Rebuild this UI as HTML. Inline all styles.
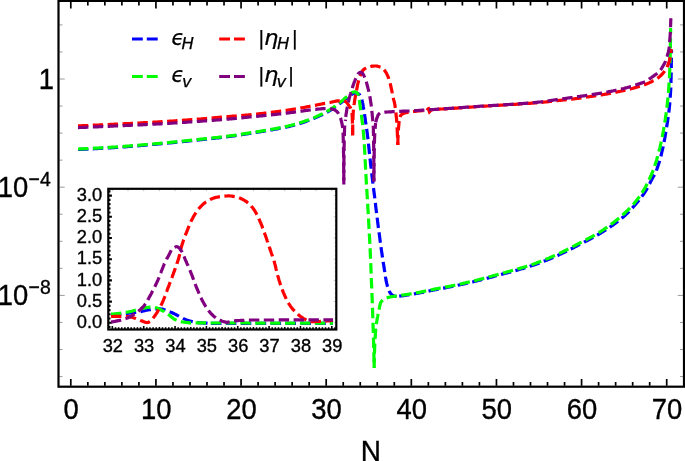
<!DOCTYPE html>
<html lang="en"><head><meta charset="utf-8"><title>Slow-roll parameters</title>
<style>html,body{margin:0;padding:0;background:#fff}svg{display:block}</style></head>
<body>
<svg width="685" height="461" viewBox="0 0 685 461">
<rect width="685" height="461" fill="#fff"/>
<path d="M59.5 24.90h3.0M683.0 24.90h-3.0M59.5 51.95h3.0M683.0 51.95h-3.0M59.5 79.00h5.2M683.0 79.00h-5.2M59.5 106.05h3.0M683.0 106.05h-3.0M59.5 133.10h3.0M683.0 133.10h-3.0M59.5 160.15h3.0M683.0 160.15h-3.0M59.5 187.20h5.2M683.0 187.20h-5.2M59.5 214.25h3.0M683.0 214.25h-3.0M59.5 241.30h3.0M683.0 241.30h-3.0M59.5 268.35h3.0M683.0 268.35h-3.0M59.5 295.40h5.2M683.0 295.40h-5.2M59.5 322.45h3.0M683.0 322.45h-3.0M59.5 349.50h3.0M683.0 349.50h-3.0M59.5 376.55h3.0M683.0 376.55h-3.0" stroke="#808080" stroke-width="0.8" fill="none"/>
<path d="M70.80 385.7v-6.6M70.80 1.9v6.6M87.83 385.7v-3.6M87.83 1.9v3.6M104.85 385.7v-3.6M104.85 1.9v3.6M121.88 385.7v-3.6M121.88 1.9v3.6M138.90 385.7v-3.6M138.90 1.9v3.6M155.93 385.7v-6.6M155.93 1.9v6.6M172.96 385.7v-3.6M172.96 1.9v3.6M189.98 385.7v-3.6M189.98 1.9v3.6M207.01 385.7v-3.6M207.01 1.9v3.6M224.03 385.7v-3.6M224.03 1.9v3.6M241.06 385.7v-6.6M241.06 1.9v6.6M258.09 385.7v-3.6M258.09 1.9v3.6M275.11 385.7v-3.6M275.11 1.9v3.6M292.14 385.7v-3.6M292.14 1.9v3.6M309.16 385.7v-3.6M309.16 1.9v3.6M326.19 385.7v-6.6M326.19 1.9v6.6M343.22 385.7v-3.6M343.22 1.9v3.6M360.24 385.7v-3.6M360.24 1.9v3.6M377.27 385.7v-3.6M377.27 1.9v3.6M394.29 385.7v-3.6M394.29 1.9v3.6M411.32 385.7v-6.6M411.32 1.9v6.6M428.35 385.7v-3.6M428.35 1.9v3.6M445.37 385.7v-3.6M445.37 1.9v3.6M462.40 385.7v-3.6M462.40 1.9v3.6M479.42 385.7v-3.6M479.42 1.9v3.6M496.45 385.7v-6.6M496.45 1.9v6.6M513.48 385.7v-3.6M513.48 1.9v3.6M530.50 385.7v-3.6M530.50 1.9v3.6M547.53 385.7v-3.6M547.53 1.9v3.6M564.55 385.7v-3.6M564.55 1.9v3.6M581.58 385.7v-6.6M581.58 1.9v6.6M598.61 385.7v-3.6M598.61 1.9v3.6M615.63 385.7v-3.6M615.63 1.9v3.6M632.66 385.7v-3.6M632.66 1.9v3.6M649.68 385.7v-3.6M649.68 1.9v3.6M666.71 385.7v-6.6M666.71 1.9v6.6" stroke="#000" stroke-width="1.7" fill="none"/>
<path d="M78.0 149.5L78.8 149.5L79.6 149.4L80.4 149.4L81.2 149.4L82.0 149.3L82.8 149.3L83.6 149.3L84.4 149.2L85.2 149.2L86.0 149.1L86.8 149.1L87.6 149.1L88.4 149.0L89.2 149.0L90.0 148.9L90.8 148.9L91.6 148.9L92.4 148.8L93.2 148.8L94.0 148.7L94.8 148.7L95.6 148.7L96.4 148.6L97.2 148.6L98.0 148.5L98.8 148.5L99.6 148.4L100.4 148.4L101.2 148.3L102.0 148.3L102.8 148.2L103.6 148.2L104.4 148.2L105.2 148.1L106.0 148.1L106.9 148.0L107.7 148.0L108.5 147.9L109.3 147.9L110.1 147.8L110.9 147.8L111.7 147.7L112.5 147.7L113.3 147.6L114.1 147.6L114.9 147.5L115.7 147.5L116.5 147.4L117.3 147.4L118.1 147.3L118.9 147.2L119.7 147.2L120.5 147.1L121.3 147.1L122.1 147.0L122.9 147.0L123.7 146.9L124.5 146.8L125.3 146.8L126.1 146.7L126.9 146.7L127.7 146.6L128.5 146.5L129.3 146.5L130.1 146.4L130.9 146.4L131.7 146.3L132.5 146.2L133.3 146.2L134.1 146.1L134.9 146.0L135.7 146.0L136.5 145.9L137.3 145.8L138.1 145.8L138.9 145.7L139.7 145.6L140.5 145.6L141.3 145.5L142.1 145.4L142.9 145.4L143.7 145.3L144.5 145.2L145.3 145.2L146.1 145.1L146.9 145.0L147.7 144.9L148.5 144.9L149.3 144.8L150.1 144.7L150.9 144.7L151.7 144.6L152.5 144.5L153.3 144.5L154.1 144.4L154.8 144.3L155.6 144.2L156.4 144.2L157.2 144.1L158.0 144.0L158.8 144.0L159.6 143.9L160.4 143.8L161.2 143.7L162.0 143.7L162.8 143.6L163.6 143.5L164.4 143.4L165.2 143.4L166.0 143.3L166.8 143.2L167.6 143.1L168.4 143.0L169.2 143.0L170.0 142.9L170.8 142.8L171.6 142.7L172.4 142.6L173.2 142.6L174.0 142.5L174.8 142.4L175.6 142.3L176.4 142.2L177.2 142.2L178.0 142.1L178.8 142.0L179.6 141.9L180.4 141.8L181.2 141.8L182.0 141.7L182.8 141.6L183.6 141.5L184.4 141.4L185.2 141.3L186.0 141.3L186.8 141.2L187.6 141.1L188.4 141.0L189.2 140.9L190.0 140.8L190.8 140.7L191.6 140.7L192.4 140.6L193.2 140.5L194.0 140.4L194.8 140.3L195.6 140.2L196.4 140.2L197.2 140.1L198.0 140.0L198.8 139.9L199.6 139.8L200.4 139.7L201.2 139.7L202.0 139.6L202.8 139.5L203.6 139.4L204.3 139.3L205.1 139.2L205.9 139.1L206.7 139.1L207.5 139.0L208.3 138.9L209.1 138.8L209.9 138.7L210.7 138.6L211.5 138.6L212.3 138.5L213.1 138.4L213.9 138.3L214.7 138.2L215.5 138.1L216.3 138.0L217.1 137.9L217.9 137.9L218.7 137.8L219.5 137.7L220.3 137.6L221.1 137.5L221.9 137.4L222.7 137.3L223.5 137.2L224.3 137.1L225.1 137.0L225.9 136.9L226.7 136.8L227.5 136.7L228.3 136.6L229.1 136.5L229.9 136.4L230.7 136.3L231.5 136.2L232.2 136.1L233.0 136.0L233.8 135.9L234.6 135.8L235.4 135.6L236.2 135.5L237.0 135.4L237.8 135.3L238.6 135.2L239.4 135.0L240.2 134.9L241.0 134.8L241.8 134.7L242.6 134.5L243.4 134.4L244.1 134.3L244.9 134.2L245.7 134.0L246.5 133.9L247.3 133.8L248.1 133.7L248.9 133.5L249.7 133.4L250.5 133.3L251.3 133.2L252.1 133.0L252.9 132.9L253.7 132.8L254.5 132.7L255.2 132.5L256.0 132.4L256.8 132.3L257.6 132.2L258.4 132.0L259.2 131.9L260.0 131.8L260.8 131.7L261.6 131.5L262.4 131.4L263.2 131.3L264.0 131.1L264.8 131.0L265.5 130.9L266.3 130.7L267.1 130.6L267.9 130.5L268.7 130.3L269.5 130.2L270.3 130.0L271.1 129.9L271.9 129.8L272.7 129.6L273.4 129.5L274.2 129.3L275.0 129.2L275.8 129.1L276.6 128.9L277.4 128.8L278.2 128.6L279.0 128.5L279.8 128.3L280.6 128.2L281.3 128.0L282.1 127.9L282.9 127.7L283.7 127.6L284.5 127.4L285.3 127.2L286.1 127.1L286.9 126.9L287.6 126.7L288.4 126.6L289.2 126.4L290.0 126.2L290.8 126.0L291.5 125.8L292.3 125.6L293.1 125.4L293.9 125.2L294.6 125.0L295.4 124.8L296.2 124.6L296.9 124.3L297.7 124.1L298.5 123.9L299.3 123.6L300.0 123.4L300.8 123.2L301.6 122.9L302.3 122.7L303.1 122.4L303.8 122.2L304.6 121.9L305.4 121.6L306.1 121.4L306.9 121.1L307.6 120.8L308.4 120.6L309.1 120.3L309.9 120.0L310.6 119.7L311.4 119.4L312.1 119.1L312.9 118.8L313.6 118.5L314.4 118.2L315.1 117.9L315.8 117.6L316.6 117.2L317.3 116.9L318.0 116.6L318.8 116.3L319.5 115.9L320.2 115.6L320.9 115.2L321.7 114.9L322.4 114.6L323.1 114.2L323.8 113.8L324.5 113.5L325.3 113.1L326.0 112.7L326.7 112.4L327.4 112.0L328.1 111.6L328.8 111.2L329.5 110.8L330.2 110.4L330.9 110.0L331.5 109.6L332.2 109.1L332.9 108.7L333.6 108.2L334.2 107.8L334.9 107.3L335.5 106.8L336.2 106.4L336.8 105.9L337.4 105.4L338.1 104.9L338.7 104.4L339.3 103.9L340.0 103.4L340.6 102.9L341.2 102.4L341.9 101.9L342.5 101.4L343.1 100.9L343.8 100.4L344.4 99.9L345.0 99.4L345.6 98.9L346.3 98.4L346.9 97.9L347.5 97.4L348.2 96.9L348.8 96.4L349.4 96.0L350.1 95.5L350.8 95.0L351.4 94.5L352.1 94.1L352.8 93.8L353.6 93.5L354.3 93.3L355.1 93.1L355.9 93.1L356.7 93.2L357.5 93.3L358.2 93.6L358.9 94.1L359.5 94.7L360.0 95.3L360.5 96.0L360.9 96.7L361.2 97.4L361.5 98.1L361.7 98.9L361.9 99.7L362.1 100.5L362.3 101.2L362.5 102.0L362.6 102.8L362.8 103.6L362.9 104.4L363.1 105.2L363.2 106.0L363.3 106.8L363.5 107.6L363.6 108.4L363.7 109.2L363.9 109.9L364.0 110.7L364.1 111.5L364.2 112.3L364.3 113.1L364.5 113.9L364.6 114.7L364.7 115.5L364.8 116.3L364.9 117.1L365.0 117.9L365.2 118.7L365.3 119.5L365.4 120.3L365.5 121.1L365.6 121.9L365.7 122.6L365.8 123.4L366.0 124.2L366.1 125.0L366.2 125.8L366.3 126.6L366.4 127.4L366.5 128.2L366.6 129.0L366.8 129.8L366.9 130.6L367.0 131.4L367.1 132.2L367.2 133.0L367.3 133.8L367.4 134.6L367.5 135.4L367.6 136.2L367.7 137.0L367.8 137.7L367.9 138.5L368.0 139.3L368.1 140.1L368.2 140.9L368.3 141.7L368.3 142.5L368.4 143.3L368.5 144.1L368.6 144.9L368.7 145.7L368.7 146.5L368.8 147.3L368.9 148.1L369.0 148.9L369.1 149.7L369.2 150.5L369.2 151.3L369.3 152.1L369.4 152.9L369.5 153.7L369.6 154.5L369.7 155.3L369.8 156.1L369.8 156.9L369.9 157.7L370.0 158.5L370.1 159.3L370.2 160.1L370.3 160.9L370.4 161.7L370.4 162.5L370.5 163.3L370.6 164.1L370.7 164.9L370.8 165.7L370.9 166.5L371.0 167.3L371.1 168.1L371.1 168.9L371.2 169.7L371.3 170.5L371.4 171.3L371.5 172.1L371.6 172.9L371.7 173.6L371.8 174.4L371.9 175.2L372.0 176.0L372.1 176.8L372.2 177.6L372.3 178.4L372.4 179.2L372.5 180.0L372.6 180.8L372.7 181.6L372.8 182.4L372.9 183.2L373.0 184.0L373.1 184.8L373.2 185.6L373.3 186.4L373.4 187.2L373.5 188.0L373.6 188.8L373.7 189.6L373.8 190.4L373.9 191.2L374.0 192.0L374.1 192.8L374.2 193.6L374.3 194.3L374.4 195.1L374.5 195.9L374.6 196.7L374.7 197.5L374.8 198.3L374.9 199.1L375.0 199.9L375.1 200.7L375.2 201.5L375.3 202.3L375.4 203.1L375.5 203.9L375.6 204.7L375.6 205.5L375.7 206.3L375.8 207.1L375.9 207.9L376.0 208.7L376.1 209.5L376.2 210.3L376.3 211.1L376.4 211.9L376.5 212.7L376.6 213.5L376.7 214.3L376.8 215.1L376.9 215.9L377.0 216.6L377.1 217.4L377.2 218.2L377.3 219.0L377.4 219.8L377.5 220.6L377.6 221.4L377.7 222.2L377.8 223.0L377.9 223.8L378.0 224.6L378.1 225.4L378.2 226.2L378.3 227.0L378.4 227.8L378.5 228.6L378.6 229.4L378.7 230.2L378.8 231.0L378.9 231.8L379.0 232.6L379.2 233.4L379.3 234.2L379.4 235.0L379.5 235.8L379.6 236.5L379.7 237.3L379.8 238.1L379.9 238.9L380.0 239.7L380.1 240.5L380.2 241.3L380.3 242.1L380.4 242.9L380.5 243.7L380.6 244.5L380.7 245.3L380.9 246.1L381.0 246.9L381.1 247.7L381.2 248.5L381.3 249.3L381.4 250.1L381.5 250.9L381.6 251.7L381.8 252.4L381.9 253.2L382.0 254.0L382.1 254.8L382.2 255.6L382.3 256.4L382.5 257.2L382.6 258.0L382.7 258.8L382.8 259.6L382.9 260.4L383.1 261.2L383.2 262.0L383.3 262.8L383.4 263.6L383.6 264.3L383.7 265.1L383.8 265.9L383.9 266.7L384.1 267.5L384.2 268.3L384.3 269.1L384.4 269.9L384.5 270.7L384.7 271.5L384.8 272.3L384.9 273.1L385.0 273.9L385.1 274.7L385.2 275.5L385.4 276.3L385.5 277.1L385.6 277.9L385.8 278.6L385.9 279.4L386.0 280.2L386.2 281.0L386.4 281.8L386.5 282.6L386.7 283.3L386.9 284.1L387.1 284.9L387.3 285.7L387.5 286.5L387.7 287.3L388.0 288.1L388.2 288.8L388.5 289.6L388.8 290.3L389.1 291.0L389.5 291.7L389.9 292.4L390.3 293.1L390.9 293.8L391.4 294.4L392.0 294.9L392.7 295.3L393.3 295.7L394.0 295.9L394.8 296.2L395.6 296.4L396.5 296.5" fill="none" stroke="#0000ff" stroke-width="3.2" stroke-dasharray="10.4 4.5" stroke-dashoffset="0.00" />
<path d="M396.5 296.5L397.3 296.4L398.1 296.3L398.9 296.2L399.7 296.1L400.5 296.0L401.3 295.9L402.1 295.8L402.9 295.7L403.7 295.6L404.5 295.4L405.2 295.3L406.0 295.2L406.8 295.1L407.6 295.0L408.4 294.9L409.2 294.7L410.0 294.6L410.8 294.5L411.6 294.4L412.4 294.2L413.2 294.1L413.9 294.0L414.7 293.8L415.5 293.7L416.3 293.5L417.1 293.4L417.9 293.2L418.7 293.1L419.5 292.9L420.2 292.8L421.0 292.6L421.8 292.4L422.6 292.3L423.4 292.1L424.2 292.0L425.0 291.8L425.7 291.6L426.5 291.5L427.3 291.3L428.1 291.2L428.9 291.0L429.7 290.8L430.5 290.7L431.2 290.5L432.0 290.4L432.8 290.2L433.6 290.0L434.4 289.9L435.2 289.7L436.0 289.6L436.8 289.4L437.5 289.3L438.3 289.1L439.1 289.0L439.9 288.8L440.7 288.7L441.5 288.5L442.3 288.4L443.1 288.2L443.8 288.1L444.6 287.9L445.4 287.8L446.2 287.6L447.0 287.5L447.8 287.3L448.6 287.1L449.3 287.0L450.1 286.8L450.9 286.7L451.7 286.5L452.5 286.4L453.3 286.2L454.1 286.0L454.8 285.9L455.6 285.7L456.4 285.5L457.2 285.4L458.0 285.2L458.8 285.0L459.5 284.9L460.3 284.7L461.1 284.5L461.9 284.4L462.7 284.2L463.5 284.0L464.2 283.8L465.0 283.7L465.8 283.5L466.6 283.3L467.4 283.1L468.2 282.9L468.9 282.8L469.7 282.6L470.5 282.4L471.3 282.2L472.1 282.0L472.8 281.9L473.6 281.7L474.4 281.5L475.2 281.3L476.0 281.1L476.7 280.9L477.5 280.7L478.3 280.5L479.1 280.3L479.8 280.1L480.6 279.9L481.4 279.7L482.2 279.5L483.0 279.3L483.7 279.1L484.5 278.9L485.3 278.7L486.1 278.5L486.8 278.3L487.6 278.1L488.4 277.9L489.1 277.7L489.9 277.5L490.7 277.3L491.5 277.1L492.2 276.9L493.0 276.7L493.8 276.4L494.6 276.2L495.3 276.0L496.1 275.8L496.9 275.6L497.7 275.4L498.4 275.2L499.2 275.0L500.0 274.8L500.8 274.6L501.5 274.4L502.3 274.1L503.1 273.9L503.9 273.7L504.6 273.5L505.4 273.3L506.2 273.1L507.0 272.9L507.7 272.7L508.5 272.5L509.3 272.3L510.1 272.1L510.8 271.9L511.6 271.7L512.4 271.5L513.2 271.2L513.9 271.0L514.7 270.8L515.5 270.6L516.2 270.4L517.0 270.2L517.8 270.0L518.6 269.7L519.3 269.5L520.1 269.3L520.9 269.1L521.6 268.8L522.4 268.6L523.2 268.4L523.9 268.1L524.7 267.9L525.5 267.7L526.2 267.4L527.0 267.2L527.8 266.9L528.5 266.7L529.3 266.5L530.1 266.2L530.8 266.0L531.6 265.7L532.3 265.5L533.1 265.2L533.9 265.0L534.6 264.7L535.4 264.4L536.1 264.2L536.9 263.9L537.6 263.6L538.4 263.4L539.1 263.1L539.9 262.8L540.6 262.5L541.4 262.2L542.1 262.0L542.9 261.7L543.6 261.4L544.4 261.1L545.1 260.8L545.9 260.5L546.6 260.2L547.4 259.9L548.1 259.6L548.9 259.3L549.6 259.0L550.3 258.7L551.1 258.3L551.8 258.0L552.5 257.7L553.3 257.4L554.0 257.1L554.7 256.8L555.5 256.4L556.2 256.1L556.9 255.8L557.7 255.5L558.4 255.1L559.1 254.8L559.9 254.4L560.6 254.1L561.3 253.8L562.0 253.4L562.7 253.1L563.5 252.7L564.2 252.4L564.9 252.0L565.6 251.7L566.3 251.3L567.1 250.9L567.8 250.6L568.5 250.2L569.2 249.9L569.9 249.5L570.6 249.1L571.4 248.8L572.1 248.4L572.8 248.0L573.5 247.7L574.2 247.3L574.9 246.9L575.6 246.5L576.3 246.2L577.1 245.8L577.8 245.4L578.5 245.1L579.2 244.7L579.9 244.3L580.6 244.0L581.3 243.6L582.0 243.2L582.8 242.9L583.5 242.5L584.2 242.1L584.9 241.8L585.6 241.4L586.3 241.0L587.0 240.7L587.8 240.3L588.5 239.9L589.2 239.6L589.9 239.2L590.6 238.8L591.3 238.4L592.0 238.1L592.7 237.7L593.4 237.3L594.1 236.9L594.8 236.5L595.5 236.1L596.2 235.7L596.9 235.3L597.6 234.9L598.3 234.5L599.0 234.1L599.7 233.7L600.4 233.3L601.0 232.9L601.7 232.5L602.4 232.0L603.1 231.6L603.8 231.2L604.4 230.8L605.1 230.3L605.8 229.9L606.5 229.4L607.1 229.0L607.8 228.6L608.5 228.1L609.1 227.7L609.8 227.2L610.5 226.8L611.1 226.3L611.8 225.8L612.5 225.4L613.1 224.9L613.8 224.4L614.4 224.0L615.1 223.5L615.7 223.0L616.4 222.5L617.0 222.0L617.6 221.5L618.3 221.0L618.9 220.6L619.5 220.1L620.1 219.6L620.8 219.0L621.4 218.5L622.0 218.0L622.6 217.5L623.2 217.0L623.8 216.5L624.4 215.9L625.0 215.4L625.6 214.9L626.1 214.3L626.7 213.7L627.3 213.2L627.9 212.6L628.4 212.1L629.0 211.5L629.6 210.9L630.1 210.3L630.7 209.7L631.2 209.1L631.8 208.6L632.3 208.0L632.9 207.4L633.4 206.8L633.9 206.2L634.4 205.6L635.0 205.0L635.5 204.4L636.0 203.8L636.5 203.1L637.0 202.5L637.6 201.9L638.1 201.3L638.6 200.7L639.1 200.0L639.6 199.4L640.1 198.8L640.6 198.1L641.1 197.5L641.6 196.9L642.1 196.2L642.5 195.6L643.0 194.9L643.5 194.3L643.9 193.6L644.4 193.0L644.8 192.3L645.3 191.6L645.7 191.0L646.1 190.3L646.5 189.6L646.9 188.9L647.3 188.2L647.7 187.5L648.1 186.8L648.4 186.1L648.8 185.4L649.2 184.7L649.5 183.9L649.9 183.2L650.2 182.5L650.6 181.8L651.0 181.1L651.3 180.4L651.7 179.6L652.1 178.9L652.5 178.2L652.9 177.5L653.3 176.8L653.7 176.1L654.1 175.4L654.5 174.7L654.9 174.0L655.2 173.3L655.5 172.6L655.9 171.8L656.2 171.1L656.4 170.4L656.7 169.6L657.0 168.9L657.3 168.1L657.5 167.4L657.8 166.6L658.0 165.9L658.3 165.1L658.5 164.3L658.8 163.6L659.0 162.8L659.3 162.0L659.5 161.3L659.7 160.5L659.9 159.7L660.1 158.9L660.3 158.1L660.6 157.4L660.8 156.6L661.0 155.8L661.2 155.0L661.4 154.2L661.5 153.5L661.7 152.7L661.9 151.9L662.1 151.1L662.3 150.4L662.5 149.6L662.6 148.8L662.8 148.0L663.0 147.2L663.2 146.5L663.3 145.7L663.5 144.9L663.7 144.1L663.8 143.3L664.0 142.5L664.1 141.7L664.3 140.9L664.4 140.2L664.6 139.4L664.7 138.6L664.9 137.8L665.0 137.0L665.2 136.2L665.3 135.4L665.4 134.6L665.6 133.8L665.7 133.0L665.8 132.3L666.0 131.5L666.1 130.7L666.2 129.9L666.3 129.1L666.5 128.3L666.6 127.5L666.7 126.7L666.8 125.9L667.0 125.1L667.1 124.3L667.2 123.6L667.3 122.8L667.5 122.0L667.6 121.2L667.7 120.4L667.8 119.6L667.9 118.8L668.0 118.0L668.2 117.2L668.3 116.4L668.4 115.6L668.5 114.8L668.6 114.0L668.7 113.2L668.8 112.4L668.9 111.6L669.0 110.8L669.1 110.0L669.2 109.2L669.3 108.4L669.3 107.7L669.4 106.9L669.5 106.1L669.6 105.3L669.7 104.5L669.7 103.7L669.8 102.9L669.9 102.1L669.9 101.3L670.0 100.5L670.0 99.7L670.1 98.9L670.2 98.1L670.2 97.3L670.3 96.5L670.3 95.7L670.4 94.9L670.4 94.1L670.5 93.3L670.5 92.5L670.6 91.7L670.6 90.9L670.7 90.1L670.7 89.3L670.8 88.5L670.8 87.7L670.8 86.9L670.9 86.1L670.9 85.3L670.9 84.5L670.9 83.7L671.0 82.9L671.0 82.1L671.0 81.3L671.0 80.5L671.0 79.7L671.1 78.9L671.1 78.1L671.1 77.3L671.1 76.5L671.1 75.7L671.1 74.8L671.2 74.0L671.2 73.2L671.2 72.4L671.2 71.6L671.2 70.8L671.2 70.0L671.2 69.2L671.3 68.4L671.3 67.6L671.3 66.8L671.3 66.0L671.3 65.2L671.3 64.4L671.3 63.6L671.3 62.8L671.4 62.0L671.4 61.2L671.4 60.4L671.4 59.6L671.4 58.8L671.4 58.0L671.4 57.2L671.4 56.4L671.4 55.6L671.5 54.8L671.5 54.0L671.5 53.2L671.5 52.4L671.5 51.6L671.5 50.8L671.5 50.0" fill="none" stroke="#0000ff" stroke-width="3.2" stroke-dasharray="10.4 4.5" stroke-dashoffset="12.17" />
<path d="M78.0 149.0L78.8 149.0L79.6 148.9L80.4 148.9L81.2 148.9L82.0 148.8L82.8 148.8L83.6 148.8L84.4 148.7L85.2 148.7L86.0 148.6L86.8 148.6L87.6 148.6L88.4 148.5L89.2 148.5L90.0 148.4L90.8 148.4L91.6 148.4L92.4 148.3L93.2 148.3L94.0 148.2L94.8 148.2L95.6 148.2L96.4 148.1L97.2 148.1L98.0 148.0L98.8 148.0L99.6 147.9L100.4 147.9L101.2 147.8L102.0 147.8L102.8 147.7L103.6 147.7L104.4 147.7L105.2 147.6L106.0 147.6L106.8 147.5L107.6 147.5L108.4 147.4L109.2 147.4L110.0 147.3L110.8 147.3L111.6 147.2L112.4 147.2L113.2 147.1L114.0 147.1L114.8 147.0L115.6 147.0L116.4 146.9L117.2 146.9L118.0 146.8L118.8 146.7L119.6 146.7L120.4 146.6L121.2 146.6L122.0 146.5L122.8 146.5L123.6 146.4L124.4 146.3L125.2 146.3L126.0 146.2L126.8 146.2L127.6 146.1L128.4 146.0L129.2 146.0L130.0 145.9L130.8 145.9L131.6 145.8L132.4 145.7L133.2 145.7L134.0 145.6L134.8 145.5L135.6 145.5L136.4 145.4L137.2 145.3L138.0 145.3L138.8 145.2L139.6 145.1L140.4 145.1L141.2 145.0L142.0 144.9L142.8 144.9L143.6 144.8L144.4 144.7L145.2 144.7L146.0 144.6L146.8 144.5L147.6 144.5L148.4 144.4L149.2 144.3L150.0 144.2L150.8 144.2L151.6 144.1L152.4 144.0L153.2 144.0L154.0 143.9L154.8 143.8L155.6 143.7L156.4 143.7L157.2 143.6L158.0 143.5L158.8 143.5L159.6 143.4L160.4 143.3L161.2 143.2L162.0 143.2L162.8 143.1L163.6 143.0L164.4 142.9L165.2 142.9L166.0 142.8L166.8 142.7L167.6 142.6L168.3 142.6L169.1 142.5L169.9 142.4L170.7 142.3L171.5 142.2L172.3 142.2L173.1 142.1L173.9 142.0L174.7 141.9L175.5 141.8L176.3 141.8L177.1 141.7L177.9 141.6L178.7 141.5L179.5 141.4L180.3 141.3L181.1 141.3L181.9 141.2L182.7 141.1L183.5 141.0L184.3 140.9L185.1 140.8L185.9 140.8L186.7 140.7L187.5 140.6L188.3 140.5L189.1 140.4L189.9 140.3L190.7 140.3L191.5 140.2L192.3 140.1L193.1 140.0L193.9 139.9L194.7 139.8L195.5 139.8L196.3 139.7L197.1 139.6L197.9 139.5L198.7 139.4L199.5 139.3L200.2 139.2L201.0 139.2L201.8 139.1L202.6 139.0L203.4 138.9L204.2 138.8L205.0 138.7L205.8 138.7L206.6 138.6L207.4 138.5L208.2 138.4L209.0 138.3L209.8 138.2L210.6 138.2L211.4 138.1L212.2 138.0L213.0 137.9L213.8 137.8L214.6 137.7L215.4 137.6L216.2 137.5L217.0 137.5L217.8 137.4L218.6 137.3L219.4 137.2L220.2 137.1L221.0 137.0L221.8 136.9L222.6 136.8L223.4 136.7L224.2 136.6L225.0 136.5L225.7 136.4L226.5 136.3L227.3 136.2L228.1 136.1L228.9 136.0L229.7 135.9L230.5 135.8L231.3 135.7L232.1 135.6L232.9 135.5L233.7 135.4L234.5 135.3L235.3 135.2L236.1 135.1L236.9 134.9L237.7 134.8L238.5 134.7L239.2 134.6L240.0 134.4L240.8 134.3L241.6 134.2L242.4 134.1L243.2 133.9L244.0 133.8L244.8 133.7L245.6 133.6L246.4 133.4L247.2 133.3L248.0 133.2L248.7 133.1L249.5 132.9L250.3 132.8L251.1 132.7L251.9 132.6L252.7 132.4L253.5 132.3L254.3 132.2L255.1 132.1L255.9 132.0L256.7 131.8L257.5 131.7L258.3 131.6L259.0 131.5L259.8 131.3L260.6 131.2L261.4 131.1L262.2 130.9L263.0 130.8L263.8 130.7L264.6 130.5L265.4 130.4L266.2 130.3L267.0 130.1L267.7 130.0L268.5 129.9L269.3 129.7L270.1 129.6L270.9 129.4L271.7 129.3L272.5 129.2L273.3 129.0L274.1 128.9L274.8 128.7L275.6 128.6L276.4 128.4L277.2 128.3L278.0 128.1L278.8 128.0L279.6 127.8L280.4 127.7L281.2 127.5L281.9 127.4L282.7 127.2L283.5 127.0L284.3 126.9L285.1 126.7L285.9 126.5L286.7 126.4L287.4 126.2L288.2 126.0L289.0 125.8L289.8 125.6L290.5 125.5L291.3 125.3L292.1 125.1L292.9 124.9L293.6 124.7L294.4 124.4L295.2 124.2L296.0 124.0L296.7 123.8L297.5 123.6L298.3 123.3L299.0 123.1L299.8 122.8L300.6 122.6L301.3 122.3L302.1 122.1L302.9 121.8L303.6 121.6L304.4 121.3L305.1 121.0L305.9 120.8L306.6 120.5L307.4 120.2L308.1 119.9L308.9 119.7L309.6 119.4L310.4 119.1L311.1 118.8L311.9 118.5L312.6 118.2L313.4 117.9L314.1 117.6L314.8 117.2L315.6 116.9L316.3 116.6L317.0 116.3L317.8 115.9L318.5 115.6L319.2 115.3L319.9 114.9L320.7 114.6L321.4 114.2L322.1 113.9L322.8 113.5L323.5 113.2L324.3 112.8L325.0 112.4L325.7 112.0L326.4 111.7L327.1 111.3L327.8 110.9L328.5 110.5L329.2 110.1L329.9 109.7L330.5 109.3L331.2 108.8L331.9 108.4L332.6 107.9L333.2 107.5L333.9 107.0L334.5 106.5L335.2 106.1L335.8 105.6L336.4 105.1L337.1 104.6L337.7 104.1L338.4 103.6L339.0 103.1L339.6 102.7L340.2 102.2L340.9 101.7L341.5 101.2L342.1 100.7L342.8 100.2L343.4 99.7L344.0 99.1L344.6 98.6L345.2 98.1L345.8 97.6L346.5 97.1L347.1 96.6L347.7 96.0L348.3 95.5L348.9 95.0L349.6 94.5L350.2 94.0L350.8 93.5L351.5 93.0L352.1 92.5L352.8 92.2L353.6 92.0L354.4 91.8L355.2 91.9L356.0 92.2L356.6 92.6L357.2 93.1L357.8 93.8L358.1 94.5L358.4 95.2L358.6 95.9L358.8 96.7L359.0 97.5L359.1 98.4L359.2 99.2L359.4 100.0L359.5 100.7L359.6 101.5L359.7 102.3L359.8 103.1L359.9 103.9L360.0 104.7L360.1 105.5L360.2 106.3L360.3 107.1L360.4 107.9L360.5 108.7L360.6 109.5L360.7 110.3L360.8 111.1L361.0 111.9L361.1 112.7L361.2 113.5L361.3 114.3L361.4 115.1L361.5 115.8L361.6 116.6L361.7 117.4L361.8 118.2L361.9 119.0L362.0 119.8L362.1 120.6L362.2 121.4L362.3 122.2L362.4 123.0L362.5 123.8L362.6 124.6L362.7 125.4L362.7 126.2L362.8 127.0L362.9 127.8L363.0 128.6L363.1 129.4L363.2 130.2L363.3 131.0L363.3 131.8L363.4 132.6L363.5 133.4L363.6 134.2L363.6 135.0L363.7 135.8L363.8 136.6L363.8 137.4L363.9 138.2L364.0 139.0L364.0 139.8L364.1 140.6L364.1 141.4L364.2 142.2L364.2 143.0L364.3 143.8L364.3 144.6L364.4 145.4L364.4 146.2L364.5 147.0L364.5 147.8L364.6 148.6L364.6 149.4L364.6 150.2L364.7 151.0L364.7 151.8L364.8 152.6L364.8 153.4L364.9 154.2L364.9 155.0L364.9 155.8L365.0 156.6L365.0 157.4L365.1 158.2L365.1 159.0L365.1 159.8L365.2 160.6L365.2 161.4L365.3 162.2L365.3 163.0L365.4 163.8L365.4 164.6L365.4 165.4L365.5 166.2L365.5 167.0L365.6 167.8L365.6 168.6L365.6 169.4L365.7 170.2L365.7 171.0L365.8 171.8L365.8 172.6L365.8 173.4L365.9 174.2L365.9 175.0L366.0 175.8L366.0 176.6L366.1 177.4L366.1 178.2L366.2 179.0L366.2 179.8L366.2 180.6L366.3 181.4L366.3 182.2L366.4 183.0L366.4 183.8L366.5 184.6L366.5 185.4L366.6 186.2L366.6 187.0L366.7 187.8L366.7 188.6L366.8 189.4L366.8 190.2L366.9 191.0L366.9 191.8L367.0 192.6L367.0 193.4L367.1 194.2L367.1 195.0L367.2 195.8L367.2 196.6L367.3 197.4L367.3 198.2L367.4 199.0L367.4 199.8L367.5 200.6L367.5 201.4L367.6 202.2L367.6 203.0L367.7 203.8L367.7 204.6L367.8 205.4L367.8 206.2L367.8 207.0L367.9 207.8L367.9 208.6L368.0 209.4L368.0 210.2L368.1 211.0L368.1 211.8L368.2 212.6L368.2 213.4L368.3 214.2L368.3 215.0L368.3 215.8L368.4 216.6L368.4 217.4L368.5 218.2L368.5 219.0L368.6 219.8L368.6 220.6L368.7 221.4L368.7 222.2L368.7 223.0L368.8 223.8L368.8 224.6L368.9 225.4L368.9 226.2L369.0 227.0L369.0 227.8L369.0 228.6L369.1 229.4L369.1 230.2L369.2 231.0L369.2 231.8L369.3 232.6L369.3 233.4L369.3 234.2L369.4 235.0L369.4 235.8L369.5 236.6L369.5 237.4L369.6 238.2L369.6 239.0L369.6 239.8L369.7 240.6L369.7 241.4L369.8 242.2L369.8 243.0L369.8 243.8L369.9 244.6L369.9 245.4L370.0 246.2L370.0 247.0L370.0 247.8L370.1 248.6L370.1 249.4L370.2 250.2L370.2 251.0L370.2 251.8L370.3 252.6L370.3 253.4L370.3 254.2L370.4 255.0L370.4 255.8L370.4 256.6L370.5 257.4L370.5 258.2L370.6 259.0L370.6 259.8L370.6 260.6L370.7 261.4L370.7 262.2L370.7 263.0L370.8 263.8L370.8 264.6L370.8 265.4L370.9 266.2L370.9 267.0L370.9 267.8L370.9 268.6L371.0 269.4L371.0 270.2L371.0 271.0L371.1 271.8L371.1 272.7L371.1 273.5L371.2 274.3L371.2 275.1L371.2 275.9L371.3 276.7L371.3 277.5L371.3 278.3L371.3 279.1L371.4 279.9L371.4 280.7L371.4 281.5L371.5 282.3L371.5 283.1L371.5 283.9L371.6 284.7L371.6 285.5L371.6 286.3L371.7 287.1L371.7 287.9L371.7 288.7L371.8 289.5L371.8 290.3L371.8 291.1L371.9 291.9L371.9 292.7L371.9 293.5L372.0 294.3L372.0 295.1L372.0 295.9L372.1 296.7L372.1 297.5L372.1 298.3L372.2 299.1L372.2 299.9L372.2 300.7L372.3 301.5L372.3 302.3L372.3 303.1L372.3 303.9L372.4 304.7L372.4 305.5L372.4 306.3L372.4 307.1L372.5 307.9L372.5 308.7L372.5 309.5L372.6 310.3L372.6 311.1L372.6 311.9L372.6 312.7L372.7 313.5L372.7 314.3L372.7 315.1L372.7 315.9L372.8 316.7L372.8 317.5L372.8 318.3L372.9 319.1L372.9 319.9L372.9 320.7L372.9 321.5L373.0 322.3L373.0 323.1L373.0 323.9L373.0 324.7L373.1 325.5L373.1 326.3L373.1 327.1L373.1 327.9L373.2 328.7L373.2 329.5L373.2 330.3L373.2 331.1L373.3 331.9L373.3 332.7L373.3 333.5L373.3 334.3L373.4 335.1L373.4 335.9L373.4 336.7L373.4 337.5L373.5 338.3L373.5 339.1L373.5 339.9L373.5 340.7L373.6 341.6L373.6 342.4L373.6 343.2L373.6 344.0L373.6 344.8L373.7 345.6L373.7 346.4L373.7 347.2L373.7 348.0L373.7 348.8L373.8 349.6L373.8 350.4L373.8 351.2L373.8 352.0L373.9 352.8L373.9 353.6L373.9 354.4L373.9 355.2L373.9 356.0L374.0 356.8L374.0 357.6L374.0 358.4L374.0 359.2L374.0 360.0L374.0 360.8L374.1 361.6L374.1 362.4L374.1 363.2L374.1 364.0L374.1 364.8L374.2 365.6L374.2 366.4L374.2 367.2L374.2 368.0" fill="none" stroke="#00ff00" stroke-width="3.2" stroke-dasharray="10.4 4.5" stroke-dashoffset="0.00" />
<path d="M374.2 368.0L374.2 367.2L374.2 366.4L374.2 365.6L374.2 364.8L374.2 364.0L374.2 363.2L374.2 362.4L374.2 361.6L374.3 360.7L374.3 359.9L374.3 359.1L374.3 358.3L374.3 357.5L374.3 356.7L374.4 355.9L374.4 355.1L374.4 354.3L374.4 353.5L374.5 352.7L374.5 351.9L374.5 351.1L374.6 350.3L374.6 349.5L374.6 348.7L374.6 347.9L374.7 347.1L374.7 346.3L374.8 345.5L374.8 344.7L374.8 343.9L374.9 343.1L374.9 342.3L375.0 341.5L375.0 340.7L375.0 339.9L375.1 339.1L375.1 338.3L375.2 337.5L375.2 336.7L375.3 335.9L375.3 335.1L375.4 334.3L375.4 333.5L375.5 332.7L375.5 331.9L375.6 331.1L375.6 330.3L375.7 329.5L375.7 328.7L375.8 327.9L375.9 327.1L376.0 326.3L376.1 325.6L376.2 324.8L376.3 324.0L376.5 323.2L376.6 322.4L376.7 321.6L376.9 320.8L377.0 320.0L377.1 319.2L377.3 318.4L377.4 317.6L377.6 316.8L377.7 316.1L377.9 315.3L378.0 314.5L378.2 313.7L378.4 312.9L378.5 312.1L378.7 311.3L378.9 310.6L379.0 309.8L379.2 309.0L379.4 308.2L379.5 307.3L379.6 306.5L379.8 305.7L380.0 304.9L380.2 304.1L380.4 303.4L380.6 302.7L381.0 302.1L381.5 301.4L382.0 300.8L382.7 300.3L383.3 299.7L384.0 299.3L384.7 298.9L385.4 298.5L386.1 298.2L386.9 297.9L387.6 297.6L388.4 297.4L389.2 297.2L389.9 297.0L390.7 296.9L391.5 296.7L392.3 296.6L393.1 296.5L393.9 296.4L394.7 296.3L395.5 296.1L396.3 296.0L397.1 295.9L397.9 295.8L398.7 295.7L399.5 295.5L400.3 295.4L401.1 295.3L401.9 295.2L402.7 295.1L403.5 295.0L404.2 294.9L405.0 294.8L405.8 294.6L406.6 294.5L407.4 294.4L408.2 294.3L409.0 294.2L409.8 294.0L410.6 293.9L411.4 293.8L412.2 293.7L413.0 293.5L413.8 293.4L414.5 293.2L415.3 293.1L416.1 292.9L416.9 292.8L417.7 292.6L418.5 292.5L419.3 292.3L420.1 292.2L420.8 292.0L421.6 291.8L422.4 291.7L423.2 291.5L424.0 291.3L424.8 291.2L425.5 291.0L426.3 290.8L427.1 290.7L427.9 290.5L428.7 290.3L429.5 290.2L430.3 290.0L431.0 289.9L431.8 289.7L432.6 289.5L433.4 289.4L434.2 289.2L435.0 289.1L435.8 288.9L436.6 288.8L437.3 288.6L438.1 288.5L438.9 288.3L439.7 288.2L440.5 288.0L441.3 287.9L442.1 287.7L442.9 287.6L443.6 287.4L444.4 287.3L445.2 287.1L446.0 286.9L446.8 286.8L447.6 286.6L448.4 286.5L449.2 286.3L449.9 286.2L450.7 286.0L451.5 285.9L452.3 285.7L453.1 285.5L453.9 285.4L454.7 285.2L455.4 285.1L456.2 284.9L457.0 284.7L457.8 284.5L458.6 284.4L459.4 284.2L460.1 284.0L460.9 283.9L461.7 283.7L462.5 283.5L463.3 283.3L464.1 283.2L464.8 283.0L465.6 282.8L466.4 282.6L467.2 282.4L468.0 282.2L468.7 282.1L469.5 281.9L470.3 281.7L471.1 281.5L471.9 281.3L472.6 281.1L473.4 280.9L474.2 280.7L475.0 280.6L475.8 280.4L476.5 280.2L477.3 280.0L478.1 279.8L478.9 279.6L479.6 279.4L480.4 279.2L481.2 279.0L482.0 278.8L482.7 278.6L483.5 278.4L484.3 278.2L485.1 278.0L485.8 277.7L486.6 277.5L487.4 277.3L488.2 277.1L488.9 276.9L489.7 276.7L490.5 276.5L491.3 276.3L492.0 276.1L492.8 275.8L493.6 275.6L494.4 275.4L495.1 275.2L495.9 275.0L496.7 274.8L497.5 274.6L498.2 274.4L499.0 274.1L499.8 273.9L500.5 273.7L501.3 273.5L502.1 273.3L502.9 273.1L503.6 272.9L504.4 272.7L505.2 272.5L506.0 272.2L506.7 272.0L507.5 271.8L508.3 271.6L509.1 271.4L509.8 271.2L510.6 271.0L511.4 270.8L512.2 270.6L512.9 270.3L513.7 270.1L514.5 269.9L515.2 269.7L516.0 269.5L516.8 269.3L517.6 269.0L518.3 268.8L519.1 268.6L519.9 268.4L520.6 268.1L521.4 267.9L522.2 267.7L522.9 267.4L523.7 267.2L524.5 267.0L525.2 266.7L526.0 266.5L526.8 266.2L527.5 266.0L528.3 265.7L529.1 265.5L529.8 265.2L530.6 265.0L531.3 264.7L532.1 264.5L532.9 264.2L533.6 264.0L534.4 263.7L535.1 263.4L535.9 263.2L536.6 262.9L537.4 262.6L538.2 262.3L538.9 262.1L539.6 261.8L540.4 261.5L541.1 261.2L541.9 260.9L542.6 260.6L543.4 260.3L544.1 260.0L544.9 259.7L545.6 259.4L546.4 259.1L547.1 258.8L547.8 258.5L548.6 258.2L549.3 257.9L550.1 257.5L550.8 257.2L551.5 256.9L552.3 256.6L553.0 256.3L553.7 255.9L554.5 255.6L555.2 255.3L555.9 254.9L556.7 254.6L557.4 254.3L558.1 253.9L558.8 253.6L559.6 253.3L560.3 252.9L561.0 252.6L561.7 252.2L562.4 251.9L563.2 251.5L563.9 251.2L564.6 250.8L565.3 250.5L566.0 250.1L566.8 249.7L567.5 249.4L568.2 249.0L568.9 248.7L569.6 248.3L570.3 247.9L571.0 247.5L571.8 247.2L572.5 246.8L573.2 246.4L573.9 246.1L574.6 245.7L575.3 245.3L576.0 245.0L576.7 244.6L577.5 244.2L578.2 243.8L578.9 243.5L579.6 243.1L580.3 242.7L581.0 242.4L581.7 242.0L582.4 241.6L583.1 241.2L583.9 240.9L584.6 240.5L585.3 240.1L586.0 239.8L586.7 239.4L587.4 239.0L588.1 238.6L588.9 238.3L589.6 237.9L590.3 237.5L591.0 237.1L591.7 236.8L592.4 236.4L593.1 236.0L593.8 235.6L594.5 235.2L595.2 234.8L595.9 234.4L596.6 234.0L597.3 233.6L598.0 233.2L598.6 232.8L599.3 232.4L600.0 231.9L600.7 231.5L601.3 231.1L602.0 230.7L602.7 230.2L603.4 229.8L604.0 229.3L604.7 228.9L605.3 228.4L606.0 228.0L606.7 227.5L607.3 227.1L608.0 226.6L608.6 226.1L609.3 225.6L609.9 225.2L610.6 224.7L611.2 224.2L611.9 223.7L612.5 223.2L613.2 222.8L613.8 222.3L614.4 221.8L615.1 221.3L615.7 220.8L616.3 220.3L617.0 219.8L617.6 219.3L618.2 218.7L618.8 218.2L619.4 217.7L620.0 217.2L620.7 216.7L621.3 216.2L621.9 215.6L622.5 215.1L623.1 214.6L623.7 214.1L624.3 213.5L624.8 213.0L625.4 212.4L626.0 211.9L626.6 211.3L627.2 210.8L627.8 210.2L628.3 209.6L628.9 209.1L629.5 208.5L630.0 207.9L630.6 207.3L631.1 206.8L631.7 206.2L632.2 205.6L632.7 205.0L633.3 204.4L633.8 203.8L634.3 203.2L634.8 202.5L635.3 201.9L635.8 201.3L636.3 200.7L636.8 200.0L637.3 199.4L637.8 198.8L638.3 198.1L638.8 197.5L639.2 196.8L639.7 196.2L640.2 195.5L640.6 194.8L641.1 194.2L641.5 193.5L642.0 192.8L642.4 192.2L642.9 191.5L643.3 190.8L643.7 190.1L644.1 189.4L644.5 188.8L644.9 188.1L645.3 187.4L645.7 186.7L646.0 186.0L646.4 185.2L646.8 184.5L647.1 183.8L647.5 183.1L647.8 182.3L648.1 181.6L648.5 180.9L648.8 180.2L649.2 179.4L649.5 178.7L649.9 178.0L650.2 177.2L650.5 176.5L650.9 175.8L651.2 175.1L651.5 174.3L651.8 173.6L652.2 172.8L652.5 172.1L652.8 171.4L653.0 170.6L653.3 169.9L653.6 169.1L653.9 168.4L654.1 167.6L654.4 166.8L654.6 166.1L654.9 165.3L655.1 164.6L655.4 163.8L655.6 163.0L655.9 162.3L656.1 161.5L656.4 160.7L656.6 160.0L656.8 159.2L657.0 158.4L657.3 157.6L657.5 156.9L657.7 156.1L657.9 155.3L658.1 154.6L658.3 153.8L658.5 153.0L658.7 152.2L658.9 151.5L659.1 150.7L659.3 149.9L659.5 149.1L659.7 148.3L659.9 147.6L660.1 146.8L660.3 146.0L660.4 145.2L660.6 144.4L660.8 143.7L661.0 142.9L661.1 142.1L661.3 141.3L661.5 140.5L661.6 139.7L661.8 138.9L662.0 138.2L662.1 137.4L662.3 136.6L662.4 135.8L662.6 135.0L662.7 134.2L662.9 133.4L663.0 132.6L663.2 131.9L663.3 131.1L663.5 130.3L663.6 129.5L663.7 128.7L663.9 127.9L664.0 127.1L664.1 126.3L664.3 125.5L664.4 124.7L664.5 124.0L664.7 123.2L664.8 122.4L664.9 121.6L665.0 120.8L665.2 120.0L665.3 119.2L665.4 118.4L665.5 117.6L665.6 116.8L665.7 116.0L665.9 115.2L666.0 114.4L666.1 113.6L666.2 112.8L666.3 112.0L666.4 111.2L666.5 110.5L666.6 109.7L666.7 108.9L666.8 108.1L666.9 107.3L667.0 106.5L667.1 105.7L667.2 104.9L667.3 104.1L667.4 103.3L667.5 102.5L667.5 101.7L667.6 100.9L667.7 100.1L667.8 99.3L667.9 98.5L667.9 97.7L668.0 96.9L668.1 96.1L668.2 95.3L668.2 94.5L668.3 93.7L668.4 92.9L668.5 92.1L668.5 91.3L668.6 90.5L668.7 89.7L668.7 88.9L668.8 88.1L668.8 87.3L668.9 86.5L668.9 85.7L669.0 84.9L669.0 84.1L669.1 83.3L669.1 82.5L669.2 81.7L669.2 80.9L669.3 80.1L669.3 79.3L669.4 78.5L669.4 77.7L669.5 76.9L669.5 76.1L669.5 75.3L669.6 74.5L669.6 73.7L669.7 72.9L669.7 72.1L669.7 71.3L669.8 70.5L669.8 69.7L669.8 68.9L669.8 68.1L669.9 67.3L669.9 66.5L669.9 65.7L670.0 64.9L670.0 64.1L670.0 63.3L670.0 62.5L670.0 61.7L670.1 60.9L670.1 60.1L670.1 59.3L670.1 58.5L670.1 57.7L670.2 56.9L670.2 56.1L670.2 55.3L670.2 54.5L670.2 53.7L670.3 52.9L670.3 52.1L670.3 51.3L670.3 50.5L670.3 49.7L670.3 48.9L670.3 48.0L670.4 47.2L670.4 46.4L670.4 45.6L670.4 44.8L670.4 44.0L670.4 43.2L670.4 42.4L670.5 41.6L670.5 40.8L670.5 40.0L670.5 39.2L670.5 38.4L670.5 37.6L670.5 36.8L670.5 36.0L670.5 35.2L670.5 34.4L670.6 33.6L670.6 32.8L670.6 32.0L670.6 31.2L670.6 30.4L670.6 29.6L670.6 28.8L670.6 28.0" fill="none" stroke="#00ff00" stroke-width="3.2" stroke-dasharray="10.4 4.5" stroke-dashoffset="0.74" />
<path d="M78.0 125.9L78.8 125.9L79.6 125.8L80.4 125.8L81.2 125.8L82.0 125.7L82.8 125.7L83.6 125.7L84.4 125.6L85.2 125.6L86.0 125.6L86.8 125.5L87.6 125.5L88.4 125.4L89.2 125.4L90.0 125.4L90.8 125.3L91.6 125.3L92.4 125.3L93.2 125.2L94.0 125.2L94.8 125.2L95.6 125.1L96.4 125.1L97.2 125.0L98.0 125.0L98.8 125.0L99.6 124.9L100.4 124.9L101.2 124.9L102.0 124.8L102.8 124.8L103.7 124.7L104.5 124.7L105.3 124.7L106.1 124.6L106.9 124.6L107.7 124.6L108.5 124.5L109.3 124.5L110.1 124.4L110.9 124.4L111.7 124.4L112.5 124.3L113.3 124.3L114.1 124.2L114.9 124.2L115.7 124.2L116.5 124.1L117.3 124.1L118.1 124.0L118.9 124.0L119.7 124.0L120.5 123.9L121.3 123.9L122.1 123.9L122.9 123.8L123.7 123.8L124.5 123.7L125.3 123.7L126.1 123.7L126.9 123.6L127.7 123.6L128.5 123.5L129.3 123.5L130.1 123.5L130.9 123.4L131.7 123.4L132.5 123.3L133.3 123.3L134.1 123.3L134.9 123.2L135.7 123.2L136.5 123.1L137.3 123.1L138.1 123.0L138.9 123.0L139.7 123.0L140.5 122.9L141.3 122.9L142.1 122.8L142.9 122.8L143.7 122.7L144.5 122.7L145.3 122.7L146.1 122.6L146.9 122.6L147.7 122.5L148.5 122.5L149.3 122.4L150.1 122.4L150.9 122.4L151.7 122.3L152.5 122.3L153.3 122.2L154.1 122.2L154.9 122.1L155.7 122.1L156.5 122.0L157.3 122.0L158.1 121.9L158.9 121.9L159.7 121.8L160.5 121.8L161.3 121.7L162.1 121.7L162.9 121.6L163.7 121.6L164.5 121.5L165.3 121.5L166.1 121.4L166.9 121.4L167.7 121.3L168.5 121.3L169.3 121.2L170.2 121.2L171.0 121.1L171.8 121.1L172.6 121.0L173.4 121.0L174.2 120.9L175.0 120.8L175.8 120.8L176.6 120.7L177.4 120.7L178.2 120.6L179.0 120.6L179.8 120.5L180.6 120.5L181.4 120.4L182.2 120.3L183.0 120.3L183.8 120.2L184.6 120.2L185.4 120.1L186.2 120.1L187.0 120.0L187.8 119.9L188.6 119.9L189.4 119.8L190.2 119.8L191.0 119.7L191.8 119.6L192.6 119.6L193.4 119.5L194.2 119.5L195.0 119.4L195.8 119.3L196.6 119.3L197.4 119.2L198.2 119.2L199.0 119.1L199.8 119.0L200.6 119.0L201.4 118.9L202.2 118.8L203.0 118.8L203.8 118.7L204.6 118.6L205.4 118.6L206.2 118.5L207.0 118.4L207.8 118.4L208.6 118.3L209.4 118.2L210.2 118.1L211.0 118.1L211.8 118.0L212.6 117.9L213.4 117.9L214.2 117.8L215.0 117.7L215.7 117.7L216.5 117.6L217.3 117.5L218.1 117.4L218.9 117.4L219.7 117.3L220.5 117.2L221.3 117.2L222.1 117.1L222.9 117.0L223.7 117.0L224.5 116.9L225.3 116.8L226.1 116.7L226.9 116.7L227.7 116.6L228.5 116.5L229.3 116.5L230.1 116.4L230.9 116.3L231.7 116.3L232.5 116.2L233.3 116.2L234.1 116.1L234.9 116.0L235.7 116.0L236.5 115.9L237.3 115.8L238.1 115.8L238.9 115.7L239.7 115.7L240.5 115.6L241.3 115.5L242.1 115.5L242.9 115.4L243.7 115.3L244.5 115.3L245.3 115.2L246.1 115.1L246.9 115.1L247.7 115.0L248.5 114.9L249.3 114.8L250.1 114.8L250.9 114.7L251.7 114.6L252.5 114.5L253.3 114.4L254.1 114.4L254.9 114.3L255.7 114.2L256.5 114.1L257.3 114.0L258.1 113.9L258.9 113.8L259.7 113.7L260.5 113.6L261.3 113.5L262.1 113.5L262.9 113.4L263.7 113.3L264.5 113.2L265.3 113.1L266.1 113.0L266.9 112.9L267.7 112.8L268.5 112.7L269.3 112.6L270.1 112.5L270.9 112.4L271.7 112.3L272.4 112.2L273.2 112.1L274.0 112.0L274.8 111.9L275.6 111.8L276.4 111.7L277.2 111.6L278.0 111.5L278.8 111.4L279.6 111.3L280.4 111.2L281.2 111.1L282.0 110.9L282.8 110.8L283.6 110.7L284.4 110.6L285.2 110.5L286.0 110.4L286.8 110.3L287.6 110.2L288.4 110.0L289.1 109.9L289.9 109.8L290.7 109.7L291.5 109.5L292.3 109.4L293.1 109.3L293.9 109.2L294.7 109.0L295.5 108.9L296.3 108.8L297.1 108.6L297.9 108.5L298.6 108.4L299.4 108.2L300.2 108.1L301.0 107.9L301.8 107.8L302.6 107.7L303.4 107.5L304.2 107.4L305.0 107.2L305.7 107.1L306.5 106.9L307.3 106.8L308.1 106.6L308.9 106.5L309.7 106.3L310.5 106.2L311.3 106.0L312.1 105.9L312.8 105.7L313.6 105.6L314.4 105.4L315.2 105.3L316.0 105.1L316.8 105.0L317.6 104.8L318.4 104.6L319.1 104.5L319.9 104.3L320.7 104.2L321.5 104.0L322.3 103.9L323.1 103.7L323.9 103.6L324.7 103.4L325.5 103.3L326.2 103.1L327.0 103.0L327.8 102.8L328.6 102.7L329.4 102.5L330.2 102.4L331.0 102.2L331.8 102.0L332.5 101.9L333.3 101.7L334.1 101.5L334.9 101.4L335.7 101.2L336.5 101.1L337.3 100.9L338.1 100.9L338.9 100.8L339.7 100.8L340.5 100.8L341.3 100.9L342.2 100.9L343.0 101.0L343.8 101.2L344.6 101.3L345.2 101.4L345.8 101.7L346.4 102.2L346.9 102.8L347.5 103.5L348.0 104.3L348.4 105.0L348.9 105.7L349.4 106.4L349.9 107.0L350.4 107.7L350.8 108.4L351.1 109.1L351.3 109.8L351.5 110.6L351.6 111.4L351.8 112.2L351.9 113.0L352.0 113.8L352.1 114.6L352.2 115.4L352.2 116.2L352.2 117.0L352.3 117.8L352.3 118.6L352.3 119.4L352.4 120.2L352.4 121.0L352.4 121.8L352.4 122.6L352.4 123.4L352.5 124.2L352.5 125.0L352.5 125.8L352.5 126.6L352.5 127.4L352.5 128.2L352.6 129.0L352.6 129.8L352.6 130.7L352.6 131.5L352.6 132.3L352.6 133.1L352.6 133.9L352.6 134.7L352.6 135.5" fill="none" stroke="#ff0000" stroke-width="3.2" stroke-dasharray="10.4 4.5" stroke-dashoffset="0.00" />
<path d="M352.6 135.5L352.6 134.7L352.6 133.9L352.6 133.1L352.6 132.3L352.6 131.5L352.6 130.6L352.6 129.8L352.7 129.0L352.7 128.2L352.7 127.4L352.7 126.6L352.7 125.8L352.8 125.0L352.8 124.2L352.8 123.4L352.8 122.6L352.8 121.8L352.9 121.0L352.9 120.2L352.9 119.4L353.0 118.6L353.0 117.7L353.0 116.9L353.1 116.1L353.1 115.3L353.1 114.5L353.2 113.7L353.2 112.9L353.3 112.1L353.3 111.3L353.4 110.5L353.5 109.7L353.6 108.9L353.6 108.1L353.7 107.3L353.8 106.5L353.9 105.7L354.0 104.9L354.1 104.1L354.3 103.3L354.4 102.5L354.5 101.7L354.6 100.9L354.7 100.1L354.8 99.3L355.0 98.5L355.1 97.7L355.3 96.9L355.4 96.1L355.6 95.3L355.8 94.5L355.9 93.8L356.1 93.0L356.3 92.2L356.4 91.4L356.6 90.6L356.7 89.8L356.8 89.0L357.0 88.2L357.1 87.4L357.3 86.6L357.4 85.8L357.6 85.0L357.7 84.2L357.9 83.4L358.1 82.7L358.3 81.9L358.5 81.1L358.7 80.3L358.9 79.5L359.2 78.8L359.5 78.0L359.7 77.3L360.0 76.5L360.3 75.7L360.6 75.0L360.9 74.2L361.3 73.5L361.6 72.7L362.0 71.9L362.4 71.2L362.8 70.5L363.2 70.0L363.8 69.5L364.4 69.0L365.0 68.5L365.8 68.1L366.5 67.7L367.3 67.3L368.1 67.0L368.9 66.8L369.6 66.7L370.4 66.5L371.2 66.4L372.0 66.2L372.8 66.1L373.6 66.1L374.5 66.0L375.3 66.0L376.1 66.0L376.9 66.1L377.7 66.3L378.5 66.5L379.3 66.7L380.1 67.0L380.8 67.2L381.5 67.5L382.1 67.9L382.7 68.4L383.3 69.0L383.9 69.6L384.5 70.3L385.0 71.0L385.5 71.7L385.9 72.3L386.3 73.0L386.7 73.7L387.0 74.4L387.4 75.2L387.7 75.9L388.0 76.7L388.3 77.4L388.6 78.2L388.8 79.0L389.1 79.7L389.3 80.5L389.5 81.3L389.8 82.0L390.0 82.8L390.2 83.6L390.4 84.4L390.6 85.2L390.8 86.0L390.9 86.8L391.1 87.5L391.3 88.3L391.5 89.1L391.6 89.9L391.8 90.7L392.0 91.5L392.1 92.3L392.3 93.1L392.4 93.9L392.6 94.6L392.8 95.4L392.9 96.2L393.1 97.0L393.3 97.8L393.4 98.6L393.6 99.4L393.8 100.2L394.0 100.9L394.2 101.7L394.4 102.5L394.6 103.3L394.7 104.1L394.9 104.9L395.0 105.7L395.1 106.5L395.2 107.3L395.3 108.1L395.4 108.9L395.5 109.7L395.6 110.5L395.7 111.3L395.8 112.1L395.9 112.9L396.0 113.7L396.1 114.5L396.1 115.3L396.2 116.1L396.3 116.9L396.4 117.7L396.5 118.5L396.6 119.3L396.6 120.1L396.7 120.9L396.7 121.7L396.8 122.5L396.8 123.3L396.9 124.1L396.9 124.9L397.0 125.8L397.0 126.6L397.1 127.4L397.1 128.2L397.2 129.0L397.2 129.8L397.2 130.6L397.3 131.4L397.3 132.2L397.3 133.0L397.4 133.8L397.4 134.6L397.4 135.4L397.5 136.2L397.5 137.0L397.5 137.8L397.6 138.6L397.6 139.5L397.6 140.3L397.7 141.1L397.7 141.9L397.7 142.7L397.8 143.5L397.8 144.3L397.8 145.1" fill="none" stroke="#ff0000" stroke-width="3.2" stroke-dasharray="10.4 4.5" stroke-dashoffset="14.26" />
<path d="M397.8 145.1L397.8 144.3L397.8 143.4L397.8 142.6L397.9 141.8L397.9 140.9L397.9 140.1L397.9 139.3L398.0 138.4L398.0 137.6L398.0 136.8L398.1 135.9L398.1 135.1L398.2 134.3L398.2 133.4L398.3 132.6L398.3 131.8L398.3 131.0L398.4 130.1L398.4 129.3L398.5 128.5L398.6 127.6L398.6 126.8L398.7 126.0L398.8 125.1L398.9 124.3L398.9 123.5L399.0 122.7L399.1 121.8L399.2 121.0" fill="none" stroke="#ff0000" stroke-width="3.2" stroke-dasharray="10.4 4.5" stroke-dashoffset="0.18" />
<path d="M399.2 121.0L399.2 120.1L399.4 119.2L399.5 118.3L399.8 117.5L400.0 116.8L400.3 116.1L400.7 115.5L401.2 114.9L401.9 114.3L402.7 113.9L403.4 113.5L404.1 113.3L404.9 113.0L405.7 112.8L406.6 112.6L407.4 112.5L408.2 112.3L409.0 112.2L409.8 112.1L410.6 111.9L411.4 111.8L412.2 111.7L413.1 111.6L413.9 111.5L414.7 111.4L415.5 111.3L416.3 111.2L417.2 111.1L418.0 111.0L418.8 110.9L419.6 110.8L420.4 110.8L421.3 110.7L422.1 110.6L422.9 110.6L423.7 110.5L424.5 110.4L425.4 110.4L426.2 110.3L427.0 110.3" fill="none" stroke="#ff0000" stroke-width="3.2" stroke-dasharray="10.4 4.5" stroke-dashoffset="10.77" />
<path d="M427.0 110.3L427.7 109.3L428.2 108.8L428.6 108.6L428.9 109.2L429.0 110.2L429.2 111.3L429.4 111.8L429.8 111.4L430.4 110.5L431.0 110.0L431.6 109.9L432.3 109.8L433.0 109.6L433.7 109.6L434.4 109.5L435.2 109.4L435.9 109.3L436.7 109.3L437.5 109.2L438.4 109.1L439.2 109.1L440.0 109.1L440.9 109.0L441.8 109.0L442.6 109.0L443.5 108.9L444.4 108.9L445.2 108.9L446.1 108.8L446.9 108.8L447.8 108.7L448.6 108.7L449.4 108.6L450.2 108.6L451.0 108.5L451.8 108.5L452.6 108.4L453.4 108.3L454.2 108.3L455.0 108.2L455.8 108.2L456.6 108.1L457.4 108.1L458.2 108.0L459.0 107.9L459.8 107.9L460.6 107.8L461.4 107.8L462.2 107.7L463.0 107.6L463.8 107.6L464.6 107.5L465.4 107.5L466.3 107.4L467.1 107.4L467.9 107.3L468.7 107.2L469.5 107.2L470.3 107.1L471.1 107.1L471.9 107.0L472.7 107.0L473.5 106.9L474.3 106.9L475.1 106.8L475.9 106.7L476.7 106.7L477.5 106.6L478.3 106.6L479.1 106.5L479.9 106.5L480.7 106.4L481.5 106.4L482.3 106.3L483.1 106.3L483.9 106.2L484.7 106.2L485.5 106.1L486.3 106.1L487.1 106.0L487.9 106.0L488.7 105.9L489.5 105.9L490.3 105.8L491.1 105.8L491.9 105.7L492.7 105.7L493.5 105.6L494.3 105.6L495.1 105.5L495.9 105.5L496.7 105.4L497.5 105.4L498.3 105.3L499.1 105.3L499.9 105.2L500.7 105.2L501.5 105.1L502.3 105.1L503.1 105.0L503.9 105.0L504.7 105.0L505.5 104.9L506.3 104.9L507.1 104.8L508.0 104.8L508.8 104.7L509.6 104.7L510.4 104.6L511.2 104.6L512.0 104.5L512.8 104.5L513.6 104.4L514.4 104.4L515.2 104.3L516.0 104.3L516.8 104.2L517.6 104.2L518.4 104.1L519.2 104.1L520.0 104.0L520.8 103.9L521.6 103.9L522.4 103.8L523.2 103.8L524.0 103.7L524.8 103.7L525.6 103.6L526.4 103.6L527.2 103.5L528.0 103.4L528.8 103.4L529.6 103.3L530.4 103.3L531.2 103.2L532.0 103.2L532.8 103.1L533.6 103.0L534.4 103.0L535.2 102.9L536.0 102.8L536.8 102.8L537.6 102.7L538.4 102.6L539.2 102.6L540.0 102.5L540.8 102.4L541.6 102.4L542.4 102.3L543.2 102.2L544.0 102.1L544.8 102.0L545.6 102.0L546.4 101.9L547.2 101.8L548.0 101.7L548.8 101.6L549.6 101.5L550.4 101.4L551.2 101.3L552.0 101.2L552.8 101.1L553.6 101.0L554.4 100.9L555.2 100.9L556.0 100.8L556.8 100.7L557.6 100.6L558.4 100.5L559.2 100.4L560.0 100.3L560.8 100.3L561.6 100.2L562.4 100.1L563.2 100.0L564.0 99.9L564.8 99.8L565.6 99.8L566.4 99.7L567.2 99.6L568.0 99.5L568.8 99.4L569.6 99.3L570.4 99.2L571.2 99.2L572.0 99.1L572.8 99.0L573.6 98.9L574.4 98.8L575.1 98.7L575.9 98.6L576.7 98.5L577.5 98.4L578.3 98.3L579.1 98.2L579.9 98.1L580.7 97.9L581.5 97.8L582.3 97.7L583.1 97.6L583.9 97.5L584.7 97.4L585.5 97.3L586.3 97.1L587.1 97.0L587.9 96.9L588.7 96.8L589.5 96.7L590.3 96.5L591.1 96.4L591.9 96.3L592.6 96.2L593.4 96.1L594.2 95.9L595.0 95.8L595.8 95.7L596.6 95.6L597.4 95.5L598.2 95.3L599.0 95.2L599.8 95.1L600.6 95.0L601.4 94.9L602.2 94.7L603.0 94.6L603.8 94.5L604.6 94.3L605.4 94.2L606.1 94.1L606.9 93.9L607.7 93.8L608.5 93.7L609.3 93.5L610.1 93.4L610.9 93.2L611.7 93.1L612.5 92.9L613.3 92.8L614.0 92.6L614.8 92.5L615.6 92.3L616.4 92.1L617.2 92.0L618.0 91.8L618.8 91.6L619.6 91.5L620.3 91.3L621.1 91.1L621.9 91.0L622.7 90.8L623.5 90.6L624.3 90.4L625.0 90.2L625.8 90.0L626.6 89.8L627.4 89.7L628.2 89.5L628.9 89.3L629.7 89.1L630.5 88.9L631.3 88.7L632.1 88.5L632.8 88.3L633.6 88.1L634.4 87.9L635.2 87.6L636.0 87.4L636.7 87.2L637.5 87.0L638.3 86.8L639.1 86.5L639.8 86.3L640.6 86.1L641.4 85.8L642.1 85.6L642.9 85.3L643.6 85.0L644.4 84.8L645.1 84.5L645.9 84.2L646.6 83.9L647.4 83.6L648.1 83.3L648.8 83.0L649.6 82.6L650.3 82.3L651.1 82.0L651.8 81.6L652.5 81.2L653.2 80.8L653.9 80.5L654.6 80.1L655.3 79.7L656.0 79.2L656.7 78.8L657.3 78.4L658.0 77.9L658.6 77.4L659.3 76.9L659.9 76.4L660.5 75.8L661.1 75.3L661.6 74.7L662.2 74.1L662.7 73.5L663.2 72.9L663.7 72.3L664.2 71.7L664.7 71.0L665.2 70.3L665.6 69.7L666.1 69.0L666.5 68.3L666.8 67.6L667.1 66.9L667.5 66.1L667.8 65.4L668.1 64.7L668.4 63.9L668.7 63.1L668.9 62.4L669.2 61.6L669.4 60.8L669.6 60.0L669.8 59.2L669.9 58.5L670.1 57.7L670.2 56.9L670.4 56.1L670.5 55.3L670.6 54.5L670.7 53.7L670.9 52.9L671.0 52.1L671.0 51.3L671.1 50.5L671.2 49.7L671.2 48.9" fill="none" stroke="#ff0000" stroke-width="3.2" stroke-dasharray="10.4 4.5" stroke-dashoffset="14.90" />
<path d="M78.0 127.6L78.8 127.6L79.6 127.5L80.4 127.5L81.2 127.5L82.0 127.4L82.8 127.4L83.6 127.4L84.4 127.3L85.2 127.3L86.0 127.3L86.8 127.2L87.6 127.2L88.4 127.2L89.2 127.1L90.0 127.1L90.8 127.1L91.6 127.0L92.4 127.0L93.2 127.0L94.0 126.9L94.8 126.9L95.6 126.9L96.4 126.8L97.2 126.8L98.0 126.8L98.8 126.7L99.6 126.7L100.4 126.6L101.2 126.6L102.0 126.6L102.8 126.5L103.7 126.5L104.5 126.5L105.3 126.4L106.1 126.4L106.9 126.4L107.7 126.3L108.5 126.3L109.3 126.3L110.1 126.2L110.9 126.2L111.7 126.2L112.5 126.1L113.3 126.1L114.1 126.0L114.9 126.0L115.7 126.0L116.5 125.9L117.3 125.9L118.1 125.9L118.9 125.8L119.7 125.8L120.5 125.8L121.3 125.7L122.1 125.7L122.9 125.6L123.7 125.6L124.5 125.6L125.3 125.5L126.1 125.5L126.9 125.5L127.7 125.4L128.5 125.4L129.3 125.4L130.1 125.3L130.9 125.3L131.7 125.2L132.5 125.2L133.3 125.2L134.1 125.1L134.9 125.1L135.7 125.1L136.5 125.0L137.3 125.0L138.1 125.0L138.9 124.9L139.7 124.9L140.5 124.8L141.3 124.8L142.1 124.8L142.9 124.7L143.7 124.7L144.5 124.7L145.3 124.6L146.1 124.6L146.9 124.5L147.7 124.5L148.5 124.5L149.3 124.4L150.1 124.4L150.9 124.3L151.7 124.3L152.5 124.2L153.3 124.2L154.1 124.2L154.9 124.1L155.7 124.1L156.5 124.0L157.3 124.0L158.1 123.9L158.9 123.9L159.7 123.9L160.6 123.8L161.4 123.8L162.2 123.7L163.0 123.7L163.8 123.6L164.6 123.6L165.4 123.5L166.2 123.5L167.0 123.4L167.8 123.4L168.6 123.3L169.4 123.3L170.2 123.2L171.0 123.2L171.8 123.1L172.6 123.1L173.4 123.0L174.2 123.0L175.0 122.9L175.8 122.9L176.6 122.8L177.4 122.8L178.2 122.7L179.0 122.7L179.8 122.6L180.6 122.6L181.4 122.5L182.2 122.5L183.0 122.4L183.8 122.4L184.6 122.3L185.4 122.3L186.2 122.2L187.0 122.2L187.8 122.1L188.6 122.0L189.4 122.0L190.2 121.9L191.0 121.9L191.8 121.8L192.6 121.8L193.4 121.7L194.2 121.7L195.0 121.6L195.8 121.5L196.6 121.5L197.4 121.4L198.2 121.4L199.0 121.3L199.8 121.3L200.6 121.2L201.4 121.2L202.2 121.1L203.0 121.0L203.8 121.0L204.6 120.9L205.4 120.9L206.2 120.8L207.0 120.7L207.8 120.7L208.6 120.6L209.4 120.6L210.2 120.5L211.0 120.5L211.8 120.4L212.6 120.3L213.4 120.3L214.2 120.2L215.0 120.2L215.8 120.1L216.6 120.0L217.4 120.0L218.2 119.9L219.0 119.8L219.8 119.8L220.6 119.7L221.4 119.7L222.2 119.6L223.0 119.5L223.8 119.5L224.6 119.4L225.4 119.3L226.2 119.3L227.0 119.2L227.8 119.1L228.6 119.1L229.4 119.0L230.2 118.9L231.0 118.8L231.8 118.8L232.6 118.7L233.4 118.6L234.2 118.6L235.0 118.5L235.8 118.4L236.6 118.3L237.4 118.2L238.2 118.2L239.0 118.1L239.8 118.0L240.6 117.9L241.4 117.8L242.2 117.8L243.0 117.7L243.8 117.6L244.6 117.5L245.3 117.4L246.1 117.3L246.9 117.3L247.7 117.2L248.5 117.1L249.3 117.0L250.1 117.0L250.9 116.9L251.7 116.8L252.5 116.7L253.3 116.6L254.1 116.6L254.9 116.5L255.7 116.4L256.5 116.3L257.3 116.3L258.1 116.2L258.9 116.1L259.7 116.0L260.5 116.0L261.3 115.9L262.1 115.8L262.9 115.7L263.7 115.6L264.5 115.6L265.3 115.5L266.1 115.4L266.9 115.3L267.7 115.2L268.5 115.2L269.3 115.1L270.1 115.0L270.9 114.9L271.7 114.8L272.5 114.7L273.3 114.7L274.1 114.6L274.9 114.5L275.7 114.4L276.5 114.3L277.3 114.2L278.1 114.1L278.9 114.0L279.7 114.0L280.5 113.9L281.3 113.8L282.1 113.7L282.9 113.6L283.7 113.5L284.5 113.4L285.3 113.3L286.1 113.2L286.8 113.1L287.6 113.0L288.4 112.9L289.2 112.8L290.0 112.7L290.8 112.6L291.6 112.5L292.4 112.4L293.2 112.3L294.0 112.2L294.8 112.1L295.6 112.0L296.4 111.9L297.2 111.8L298.0 111.7L298.8 111.6L299.6 111.4L300.4 111.3L301.2 111.2L302.0 111.1L302.7 111.0L303.5 110.9L304.3 110.7L305.1 110.6L305.9 110.5L306.7 110.4L307.5 110.3L308.3 110.2L309.1 110.1L309.9 110.0L310.7 109.9L311.5 109.8L312.3 109.7L313.1 109.6L313.9 109.5L314.7 109.4L315.5 109.4L316.3 109.3L317.1 109.2L317.9 109.1L318.7 109.0L319.5 109.0L320.3 108.9L321.1 108.8L321.9 108.7L322.7 108.7L323.5 108.6L324.3 108.6L325.1 108.5L325.9 108.5L326.7 108.5L327.5 108.5L328.3 108.6L329.1 108.6L329.9 108.7L330.7 108.8L331.5 108.9L332.3 109.1L333.1 109.3L333.8 109.6L334.5 109.9L335.2 110.3L335.9 110.7L336.6 111.3L337.2 111.8L337.7 112.4L338.1 113.0L338.6 113.6L339.0 114.3L339.3 115.0L339.7 115.8L340.0 116.6L340.3 117.4L340.6 118.1L340.8 118.9L341.0 119.7L341.2 120.4L341.4 121.2L341.6 122.0L341.8 122.8L342.0 123.6L342.1 124.4L342.3 125.2L342.4 125.9L342.5 126.7L342.7 127.6L342.8 128.4L342.9 129.2L342.9 130.0L343.0 130.8L343.0 131.6L343.0 132.3L343.1 133.1L343.1 133.9L343.1 134.7L343.1 135.5L343.2 136.3L343.2 137.1L343.2 137.9L343.2 138.7L343.3 139.5L343.3 140.3L343.3 141.1L343.3 141.9L343.3 142.7L343.4 143.5L343.4 144.3L343.4 145.1L343.4 145.9L343.4 146.7L343.4 147.5L343.5 148.3L343.5 149.1L343.5 149.9L343.5 150.7L343.5 151.5L343.5 152.3L343.5 153.1L343.6 153.9L343.6 154.7L343.6 155.5L343.6 156.3L343.6 157.1L343.6 157.9L343.6 158.7L343.6 159.5L343.7 160.3L343.7 161.1L343.7 161.9L343.7 162.7L343.7 163.5L343.7 164.3L343.7 165.1L343.7 165.9L343.7 166.7L343.7 167.5L343.7 168.3L343.7 169.1L343.8 169.9L343.8 170.8L343.8 171.6L343.8 172.4L343.8 173.2L343.8 174.0L343.8 174.8L343.8 175.6L343.8 176.4L343.8 177.2L343.8 178.0L343.8 178.8L343.8 179.6L343.8 180.4L343.8 181.3L343.8 182.1L343.8 182.9L343.8 183.7L343.8 184.5" fill="none" stroke="#800080" stroke-width="3.2" stroke-dasharray="10.4 4.5" stroke-dashoffset="0.00" />
<path d="M343.8 184.5L343.8 183.7L343.8 182.9L343.8 182.1L343.8 181.2L343.8 180.4L343.8 179.6L343.8 178.8L343.8 178.0L343.8 177.2L343.8 176.3L343.8 175.5L343.8 174.7L343.8 173.9L343.8 173.1L343.8 172.3L343.8 171.5L343.8 170.6L343.8 169.8L343.8 169.0L343.9 168.2L343.9 167.4L343.9 166.6L343.9 165.8L343.9 164.9L343.9 164.1L343.9 163.3L343.9 162.5L343.9 161.7L343.9 160.9L343.9 160.1L343.9 159.3L343.9 158.4L344.0 157.6L344.0 156.8L344.0 156.0L344.0 155.2L344.0 154.4L344.0 153.6L344.0 152.8L344.0 152.0L344.0 151.1L344.1 150.3L344.1 149.5L344.1 148.7L344.1 147.9L344.1 147.1L344.1 146.3L344.1 145.5L344.2 144.7L344.2 143.9L344.2 143.0L344.2 142.2L344.2 141.4L344.2 140.6L344.3 139.8L344.3 139.0L344.3 138.2L344.3 137.4L344.3 136.6L344.4 135.8L344.4 134.9L344.4 134.1L344.4 133.3L344.4 132.5L344.5 131.7L344.5 130.9L344.5 130.1L344.5 129.3L344.6 128.5L344.6 127.7L344.6 126.9L344.7 126.1L344.7 125.2L344.8 124.4L344.9 123.6L345.0 122.8L345.2 122.0L345.3 121.2L345.4 120.4L345.5 119.6" fill="none" stroke="#800080" stroke-width="3.2" stroke-dasharray="10.4 4.5" stroke-dashoffset="10.94" />
<path d="M345.5 119.6L345.6 118.8L345.6 118.0L345.7 117.2L345.8 116.4L345.9 115.6L346.0 114.8L346.1 114.0L346.3 113.2L346.4 112.4L346.5 111.6L346.6 110.8L346.8 110.0L346.9 109.2L347.0 108.4L347.2 107.6L347.3 106.8L347.5 106.1L347.7 105.3L347.8 104.5L348.0 103.7L348.2 102.9L348.4 102.1L348.6 101.3L348.7 100.6L348.9 99.8L349.1 99.0L349.3 98.2L349.5 97.4L349.7 96.6L349.9 95.9L350.1 95.1L350.4 94.3L350.6 93.6L350.8 92.8L351.1 92.0L351.3 91.2L351.6 90.5L351.8 89.7L352.0 88.9L352.3 88.2L352.5 87.4L352.7 86.6L353.0 85.9L353.2 85.1L353.5 84.3L353.8 83.6L354.0 82.8L354.3 82.0L354.6 81.3L354.9 80.5L355.2 79.8L355.5 79.1L355.8 78.3L356.1 77.6L356.4 76.8L356.8 76.1L357.2 75.4L357.6 74.7L358.0 74.0L358.6 73.4L359.2 72.9L359.9 72.5L360.7 72.3L361.4 72.6L362.1 73.0L362.7 73.6L363.1 74.3L363.6 74.9L363.9 75.6L364.3 76.4L364.6 77.1L365.0 77.8L365.3 78.6L365.6 79.3L365.8 80.1L366.1 80.9L366.3 81.6L366.5 82.4L366.7 83.2L366.9 84.0L367.1 84.7L367.3 85.5L367.5 86.3L367.7 87.1L367.9 87.9L368.1 88.7L368.3 89.4L368.5 90.2L368.7 91.0L368.8 91.8L369.0 92.6L369.2 93.4L369.4 94.2L369.5 94.9L369.7 95.7L369.8 96.5L370.0 97.3L370.1 98.1L370.2 98.9L370.4 99.7L370.5 100.5L370.6 101.3L370.7 102.1L370.9 102.9L371.0 103.7L371.1 104.5L371.2 105.3L371.3 106.1L371.4 106.9L371.5 107.7L371.6 108.5L371.7 109.3L371.8 110.1L371.8 110.9L371.9 111.7L372.0 112.5L372.1 113.3L372.2 114.1L372.2 114.9L372.3 115.7L372.4 116.5L372.5 117.3L372.5 118.1L372.6 118.9L372.7 119.7L372.8 120.5L372.9 121.3L372.9 122.1L373.0 122.9L373.1 123.7L373.1 124.5L373.2 125.3L373.2 126.1L373.3 126.9L373.3 127.7L373.4 128.5L373.4 129.3L373.4 130.2L373.4 131.0L373.4 131.8L373.4 132.6L373.5 133.4L373.5 134.2L373.5 135.0L373.5 135.8L373.5 136.6L373.5 137.4L373.5 138.2L373.6 139.0L373.6 139.8L373.6 140.6L373.6 141.4L373.6 142.2L373.6 143.0L373.6 143.8L373.6 144.6L373.7 145.4L373.7 146.2L373.7 147.0L373.7 147.8L373.7 148.7L373.7 149.5L373.7 150.3L373.7 151.1L373.7 151.9L373.7 152.7L373.8 153.5L373.8 154.3L373.8 155.1L373.8 155.9L373.8 156.7L373.8 157.5L373.8 158.3L373.8 159.1L373.8 159.9L373.8 160.7L373.8 161.5L373.8 162.3L373.8 163.2L373.8 164.0L373.8 164.8L373.9 165.6L373.9 166.4L373.9 167.2L373.9 168.0L373.9 168.8L373.9 169.6L373.9 170.4L373.9 171.2L373.9 172.0L373.9 172.8L373.9 173.6L373.9 174.4L373.9 175.2L373.9 176.1L373.9 176.9L373.9 177.7L373.9 178.5L373.9 179.3L373.9 180.1L373.9 180.9L373.9 181.7" fill="none" stroke="#800080" stroke-width="3.2" stroke-dasharray="10.4 4.5" stroke-dashoffset="12.27" />
<path d="M373.9 181.7L373.9 180.9L373.9 180.1L373.9 179.2L373.9 178.4L373.9 177.6L373.9 176.8L373.9 176.0L373.9 175.2L373.9 174.4L373.9 173.5L373.9 172.7L373.9 171.9L373.9 171.1L374.0 170.3L374.0 169.5L374.0 168.6L374.0 167.8L374.0 167.0L374.0 166.2L374.0 165.4L374.0 164.6L374.0 163.7L374.0 162.9L374.0 162.1L374.1 161.3L374.1 160.5L374.1 159.7L374.1 158.8L374.1 158.0L374.1 157.2L374.1 156.4L374.2 155.6L374.2 154.8L374.2 154.0L374.2 153.1L374.2 152.3L374.2 151.5L374.2 150.7L374.3 149.9L374.3 149.1L374.3 148.2L374.3 147.4L374.3 146.6L374.4 145.8L374.4 145.0L374.4 144.2L374.4 143.4L374.4 142.5L374.5 141.7L374.5 140.9L374.5 140.1L374.5 139.3L374.5 138.5L374.6 137.7L374.6 136.8L374.7 136.0L374.7 135.2L374.7 134.4L374.8 133.6L374.8 132.8L374.9 132.0L375.0 131.1L375.0 130.3L375.1 129.5L375.1 128.7L375.2 127.9L375.3 127.1L375.3 126.3L375.4 125.4L375.5 124.6L375.5 123.8L375.6 123.0" fill="none" stroke="#800080" stroke-width="3.2" stroke-dasharray="10.4 4.5" stroke-dashoffset="6.69" />
<path d="M375.6 123.0L375.8 122.2L376.0 121.4L376.2 120.7L376.4 119.9L376.6 119.1L376.9 118.3L377.1 117.5L377.4 116.8L377.7 116.0L378.0 115.3L378.4 114.6L378.9 114.0L379.5 113.4L380.1 112.9L380.8 112.7L381.6 112.5L382.4 112.4L383.2 112.3L384.1 112.3L384.9 112.2L385.7 112.1L386.5 112.1L387.3 112.0L388.1 112.0L388.9 111.9L389.7 111.9L390.5 111.8L391.3 111.8L392.1 111.7L392.9 111.7L393.7 111.7L394.5 111.6L395.3 111.6L396.1 111.5L396.9 111.5L397.7 111.5L398.5 111.4L399.3 111.4L400.1 111.4L400.9 111.3L401.7 111.3L402.5 111.2L403.3 111.2L404.1 111.2L404.9 111.1L405.7 111.1L406.5 111.1L407.3 111.0L408.1 111.0L408.9 111.0L409.8 110.9L410.6 110.9L411.4 110.8L412.2 110.8L413.0 110.7L413.8 110.7L414.6 110.7L415.4 110.6L416.2 110.6L417.0 110.5L417.8 110.5L418.6 110.4L419.4 110.4L420.2 110.3L421.0 110.3L421.8 110.2L422.6 110.2L423.4 110.1L424.2 110.1L425.0 110.0L425.8 110.0L426.6 109.9L427.4 109.9L428.2 109.8L429.0 109.8L429.8 109.7L430.6 109.7L431.4 109.6L432.2 109.6L433.0 109.5L433.8 109.5L434.6 109.4L435.4 109.4L436.2 109.3L437.0 109.3L437.8 109.2L438.6 109.1L439.4 109.1L440.2 109.0L441.0 109.0L441.8 108.9L442.6 108.9L443.4 108.8L444.2 108.8L445.0 108.7L445.8 108.6L446.6 108.6L447.4 108.5L448.2 108.5L449.0 108.4L449.8 108.4L450.6 108.3L451.4 108.3L452.2 108.2L453.0 108.1L453.8 108.1L454.6 108.0L455.5 108.0L456.3 107.9L457.1 107.9L457.9 107.8L458.7 107.7L459.5 107.7L460.3 107.6L461.1 107.6L461.9 107.5L462.7 107.5L463.5 107.4L464.3 107.3L465.1 107.3L465.9 107.2L466.7 107.2L467.5 107.1L468.3 107.1L469.1 107.0L469.9 107.0L470.7 106.9L471.5 106.8L472.3 106.8L473.1 106.7L473.9 106.7L474.7 106.6L475.5 106.6L476.3 106.5L477.1 106.5L477.9 106.4L478.7 106.4L479.5 106.3L480.3 106.2L481.1 106.2L481.9 106.1L482.7 106.1L483.5 106.0L484.3 106.0L485.1 105.9L485.9 105.9L486.7 105.8L487.5 105.8L488.3 105.7L489.1 105.7L489.9 105.6L490.7 105.6L491.5 105.5L492.3 105.5L493.1 105.4L493.9 105.4L494.7 105.4L495.5 105.3L496.3 105.3L497.1 105.2L498.0 105.2L498.8 105.1L499.6 105.1L500.4 105.0L501.2 105.0L502.0 104.9L502.8 104.9L503.6 104.8L504.4 104.8L505.2 104.7L506.0 104.7L506.8 104.6L507.6 104.6L508.4 104.5L509.2 104.5L510.0 104.4L510.8 104.4L511.6 104.3L512.4 104.2L513.2 104.2L514.0 104.1L514.8 104.1L515.6 104.0L516.4 104.0L517.2 103.9L518.0 103.9L518.8 103.8L519.6 103.7L520.4 103.7L521.2 103.6L522.0 103.6L522.8 103.5L523.6 103.4L524.4 103.4L525.2 103.3L526.0 103.3L526.8 103.2L527.6 103.1L528.4 103.1L529.2 103.0L530.0 102.9L530.8 102.9L531.6 102.8L532.4 102.7L533.2 102.6L534.0 102.6L534.8 102.5L535.6 102.4L536.4 102.4L537.2 102.3L538.0 102.2L538.8 102.1L539.6 102.0L540.4 102.0L541.2 101.9L542.0 101.8L542.8 101.7L543.6 101.6L544.4 101.5L545.2 101.4L546.0 101.3L546.8 101.1L547.6 101.0L548.4 100.9L549.2 100.8L549.9 100.6L550.7 100.5L551.5 100.4L552.3 100.3L553.1 100.2L553.9 100.0L554.7 99.9L555.5 99.8L556.3 99.7L557.1 99.6L557.9 99.4L558.7 99.3L559.5 99.2L560.3 99.1L561.1 99.0L561.9 98.9L562.7 98.8L563.5 98.7L564.3 98.6L565.1 98.5L565.9 98.4L566.7 98.3L567.4 98.1L568.2 98.0L569.0 97.9L569.8 97.8L570.6 97.7L571.4 97.6L572.2 97.5L573.0 97.4L573.8 97.3L574.6 97.2L575.4 97.0L576.2 96.9L577.0 96.8L577.8 96.7L578.6 96.6L579.4 96.5L580.2 96.4L581.0 96.2L581.8 96.1L582.6 96.0L583.4 95.9L584.2 95.8L584.9 95.7L585.7 95.5L586.5 95.4L587.3 95.3L588.1 95.2L588.9 95.1L589.7 94.9L590.5 94.8L591.3 94.7L592.1 94.6L592.9 94.4L593.7 94.3L594.5 94.2L595.3 94.1L596.1 93.9L596.9 93.8L597.7 93.7L598.4 93.5L599.2 93.4L600.0 93.3L600.8 93.2L601.6 93.0L602.4 92.9L603.2 92.7L604.0 92.6L604.8 92.5L605.6 92.3L606.4 92.2L607.2 92.0L607.9 91.9L608.7 91.7L609.5 91.6L610.3 91.4L611.1 91.3L611.9 91.1L612.7 91.0L613.5 90.8L614.2 90.6L615.0 90.5L615.8 90.3L616.6 90.1L617.4 90.0L618.2 89.8L619.0 89.6L619.7 89.4L620.5 89.3L621.3 89.1L622.1 88.9L622.9 88.7L623.7 88.5L624.4 88.3L625.2 88.1L626.0 87.9L626.8 87.7L627.5 87.5L628.3 87.3L629.1 87.1L629.9 86.9L630.6 86.6L631.4 86.4L632.2 86.1L632.9 85.9L633.7 85.6L634.5 85.4L635.2 85.1L636.0 84.9L636.7 84.6L637.5 84.4L638.3 84.1L639.0 83.9L639.8 83.6L640.6 83.4L641.3 83.1L642.1 82.9L642.9 82.6L643.6 82.3L644.4 82.0L645.1 81.7L645.8 81.4L646.5 81.0L647.2 80.5L647.8 80.1L648.5 79.6L649.1 79.1L649.8 78.7L650.5 78.2L651.1 77.7L651.8 77.3L652.4 76.8L653.1 76.4L653.8 75.9L654.4 75.4L655.1 75.0L655.7 74.5L656.4 74.0L657.0 73.5L657.6 73.0L658.2 72.5L658.8 71.9L659.4 71.3L659.9 70.7L660.4 70.1L660.9 69.5L661.3 68.8L661.8 68.1L662.2 67.4L662.6 66.7L663.0 66.0L663.4 65.3L663.8 64.6L664.2 63.9L664.6 63.2L664.9 62.5L665.3 61.8L665.6 61.0L665.9 60.3L666.1 59.6L666.4 58.8L666.6 58.0L666.9 57.2L667.1 56.5L667.3 55.7L667.5 54.9L667.7 54.1L668.0 53.4L668.2 52.6L668.4 51.8L668.6 51.0L668.7 50.2L668.9 49.5L669.0 48.7L669.1 47.9L669.2 47.1L669.3 46.3L669.3 45.5L669.4 44.7L669.5 43.9L669.6 43.1L669.6 42.3L669.7 41.5L669.7 40.7L669.8 39.9L669.9 39.1L669.9 38.3L670.0 37.5L670.1 36.7L670.1 35.9L670.2 35.1L670.2 34.3L670.3 33.5L670.3 32.7L670.3 31.9L670.4 31.0L670.4 30.2L670.4 29.4L670.5 28.6L670.5 27.8L670.5 27.0L670.6 26.2L670.6 25.4L670.6 24.6L670.7 23.8L670.7 23.0L670.7 22.2L670.7 21.4L670.8 20.6L670.8 19.8L670.8 19.0L670.8 18.2" fill="none" stroke="#800080" stroke-width="3.2" stroke-dasharray="10.4 4.5" stroke-dashoffset="14.18" />
<rect x="58.5" y="0.9" width="625.5" height="385.8" fill="none" stroke="#000" stroke-width="2.2"/>
<rect x="108.3" y="188.8" width="228.0" height="140.7" fill="#fff" stroke="none"/>
<path d="M112.35 329.5v-3.4M115.49 329.5v-2.2M118.62 329.5v-2.2M121.75 329.5v-2.2M124.89 329.5v-2.2M128.03 329.5v-2.6M131.16 329.5v-2.2M134.30 329.5v-2.2M137.43 329.5v-2.2M140.56 329.5v-2.2M143.70 329.5v-3.4M146.84 329.5v-2.2M149.97 329.5v-2.2M153.10 329.5v-2.2M156.24 329.5v-2.2M159.38 329.5v-2.6M162.51 329.5v-2.2M165.65 329.5v-2.2M168.78 329.5v-2.2M171.91 329.5v-2.2M175.05 329.5v-3.4M178.19 329.5v-2.2M181.32 329.5v-2.2M184.45 329.5v-2.2M187.59 329.5v-2.2M190.72 329.5v-2.6M193.86 329.5v-2.2M197.00 329.5v-2.2M200.13 329.5v-2.2M203.26 329.5v-2.2M206.40 329.5v-3.4M209.54 329.5v-2.2M212.67 329.5v-2.2M215.80 329.5v-2.2M218.94 329.5v-2.2M222.07 329.5v-2.6M225.21 329.5v-2.2M228.35 329.5v-2.2M231.48 329.5v-2.2M234.61 329.5v-2.2M237.75 329.5v-3.4M240.89 329.5v-2.2M244.02 329.5v-2.2M247.15 329.5v-2.2M250.29 329.5v-2.2M253.43 329.5v-2.6M256.56 329.5v-2.2M259.70 329.5v-2.2M262.83 329.5v-2.2M265.96 329.5v-2.2M269.10 329.5v-3.4M272.24 329.5v-2.2M275.37 329.5v-2.2M278.50 329.5v-2.2M281.64 329.5v-2.2M284.77 329.5v-2.6M287.91 329.5v-2.2M291.05 329.5v-2.2M294.18 329.5v-2.2M297.31 329.5v-2.2M300.45 329.5v-3.4M303.59 329.5v-2.2M306.72 329.5v-2.2M309.85 329.5v-2.2M312.99 329.5v-2.2M316.12 329.5v-2.6M319.26 329.5v-2.2M322.40 329.5v-2.2M325.53 329.5v-2.2M328.66 329.5v-2.2M331.80 329.5v-3.4M334.94 329.5v-2.2" stroke="#000" stroke-width="1.6" fill="none"/>
<path d="M108.3 327.04h2.2M108.3 322.80h3.6M108.3 318.56h2.2M108.3 314.32h2.2M108.3 310.08h2.2M108.3 305.84h2.2M108.3 301.60h3.6M108.3 297.36h2.2M108.3 293.12h2.2M108.3 288.88h2.2M108.3 284.64h2.2M108.3 280.40h3.6M108.3 276.16h2.2M108.3 271.92h2.2M108.3 267.68h2.2M108.3 263.44h2.2M108.3 259.20h3.6M108.3 254.96h2.2M108.3 250.72h2.2M108.3 246.48h2.2M108.3 242.24h2.2M108.3 238.00h3.6M108.3 233.76h2.2M108.3 229.52h2.2M108.3 225.28h2.2M108.3 221.04h2.2M108.3 216.80h3.6M108.3 212.56h2.2M108.3 208.32h2.2M108.3 204.08h2.2M108.3 199.84h2.2M108.3 195.60h3.6M108.3 191.36h2.2" stroke="#000" stroke-width="2.1" fill="none"/>
<path d="M336.3 327.04h-1.6M336.3 322.80h-2.6M336.3 318.56h-1.6M336.3 314.32h-1.6M336.3 310.08h-1.6M336.3 305.84h-1.6M336.3 301.60h-2.6M336.3 297.36h-1.6M336.3 293.12h-1.6M336.3 288.88h-1.6M336.3 284.64h-1.6M336.3 280.40h-2.6M336.3 276.16h-1.6M336.3 271.92h-1.6M336.3 267.68h-1.6M336.3 263.44h-1.6M336.3 259.20h-2.6M336.3 254.96h-1.6M336.3 250.72h-1.6M336.3 246.48h-1.6M336.3 242.24h-1.6M336.3 238.00h-2.6M336.3 233.76h-1.6M336.3 229.52h-1.6M336.3 225.28h-1.6M336.3 221.04h-1.6M336.3 216.80h-2.6M336.3 212.56h-1.6M336.3 208.32h-1.6M336.3 204.08h-1.6M336.3 199.84h-1.6M336.3 195.60h-2.6M336.3 191.36h-1.6M112.35 188.8v2.4M128.03 188.8v2.4M143.70 188.8v2.4M159.38 188.8v2.4M175.05 188.8v2.4M190.72 188.8v2.4M206.40 188.8v2.4M222.07 188.8v2.4M237.75 188.8v2.4M253.43 188.8v2.4M269.10 188.8v2.4M284.77 188.8v2.4M300.45 188.8v2.4M316.12 188.8v2.4M331.80 188.8v2.4" stroke="#aaa" stroke-width="0.7" fill="none"/>
<path d="M111.0 314.8L111.8 314.7L112.6 314.7L113.4 314.6L114.2 314.6L115.0 314.5L115.8 314.4L116.7 314.4L117.5 314.3L118.3 314.2L119.1 314.2L119.9 314.1L120.7 314.0L121.5 313.9L122.3 313.9L123.1 313.8L123.9 313.7L124.7 313.6L125.5 313.5L126.3 313.5L127.1 313.4L127.9 313.3L128.7 313.2L129.6 313.1L130.4 313.0L131.2 312.9L132.0 312.8L132.8 312.7L133.6 312.6L134.4 312.5L135.2 312.4L136.0 312.3L136.8 312.2L137.6 312.1L138.4 312.0L139.2 311.8L140.0 311.7L140.8 311.6L141.6 311.4L142.4 311.2L143.2 311.0L143.9 310.8L144.7 310.7L145.5 310.5L146.3 310.3L147.1 310.1L147.9 310.0L148.7 309.8L149.5 309.7L150.3 309.6L151.1 309.4L151.9 309.3L152.7 309.2L153.5 309.1L154.3 309.0L155.1 308.9L155.9 308.9L156.7 308.8L157.6 308.8L158.4 308.8L159.2 308.9L160.0 308.9L160.8 309.0L161.6 309.1L162.4 309.2L163.2 309.4L163.9 309.6L164.7 309.8L165.5 310.0L166.3 310.3L167.0 310.6L167.8 310.9L168.5 311.3L169.3 311.6L170.1 311.9L170.8 312.2L171.6 312.5L172.3 312.8L173.0 313.2L173.8 313.5L174.5 313.9L175.2 314.2L175.9 314.6L176.6 315.0L177.4 315.4L178.1 315.7L178.8 316.1L179.5 316.5L180.3 316.9L181.0 317.3L181.7 317.6L182.4 318.0L183.1 318.4L183.9 318.8L184.6 319.1L185.3 319.4L186.1 319.7L186.8 320.0L187.6 320.2L188.4 320.5L189.2 320.7L189.9 320.9L190.7 321.2L191.5 321.4L192.3 321.5L193.1 321.7L193.9 321.9L194.7 322.0L195.5 322.2L196.3 322.3L197.1 322.4L197.9 322.6L198.7 322.7L199.5 322.8L200.3 322.8L201.1 322.9L201.9 322.9L202.7 323.0L203.5 323.1L204.3 323.1L205.1 323.2L205.9 323.2L206.7 323.2L207.6 323.3L208.4 323.3L209.2 323.3L210.0 323.3" fill="none" stroke="#0000ff" stroke-width="3.2" stroke-dasharray="10.4 4.5" stroke-dashoffset="0.00" />
<path d="M210.0 323.3L210.8 323.3L211.6 323.3L212.4 323.3L213.2 323.3L214.0 323.3L214.9 323.3L215.7 323.3L216.5 323.3L217.3 323.3L218.1 323.3L218.9 323.3L219.7 323.3L220.5 323.3L221.3 323.3L222.1 323.3L222.9 323.3L223.8 323.3L224.6 323.3L225.4 323.3L226.2 323.3L227.0 323.3L227.8 323.3L228.6 323.3L229.4 323.3L230.2 323.3L231.0 323.3L231.8 323.3L232.7 323.3L233.5 323.3L234.3 323.3L235.1 323.3L235.9 323.3L236.7 323.3L237.5 323.3L238.3 323.3L239.1 323.3L239.9 323.3L240.8 323.3L241.6 323.3L242.4 323.3L243.2 323.3L244.0 323.3L244.8 323.3L245.6 323.3L246.4 323.3L247.2 323.3L248.0 323.3L248.8 323.3L249.7 323.3L250.5 323.3L251.3 323.3L252.1 323.3L252.9 323.3L253.7 323.3L254.5 323.3L255.3 323.3L256.1 323.3L256.9 323.3L257.7 323.3L258.6 323.3L259.4 323.3L260.2 323.3L261.0 323.3L261.8 323.3L262.6 323.3L263.4 323.3L264.2 323.3L265.0 323.3L265.8 323.3L266.6 323.3L267.5 323.3L268.3 323.3L269.1 323.3L269.9 323.3L270.7 323.3L271.5 323.4L272.3 323.4L273.1 323.4L273.9 323.4L274.7 323.4L275.5 323.4L276.4 323.4L277.2 323.4L278.0 323.4L278.8 323.4L279.6 323.4L280.4 323.4L281.2 323.4L282.0 323.4L282.8 323.4L283.6 323.4L284.4 323.4L285.3 323.4L286.1 323.4L286.9 323.4L287.7 323.4L288.5 323.4L289.3 323.4L290.1 323.4L290.9 323.4L291.7 323.4L292.5 323.4L293.3 323.4L294.2 323.4L295.0 323.4L295.8 323.4L296.6 323.4L297.4 323.4L298.2 323.4L299.0 323.4L299.8 323.4L300.6 323.4L301.4 323.4L302.2 323.4L303.1 323.4L303.9 323.4L304.7 323.4L305.5 323.4L306.3 323.4L307.1 323.4L307.9 323.4L308.7 323.4L309.5 323.4L310.3 323.4L311.2 323.4L312.0 323.4L312.8 323.4L313.6 323.4L314.4 323.4L315.2 323.4L316.0 323.4L316.8 323.4L317.6 323.4L318.4 323.4L319.2 323.4L320.1 323.4L320.9 323.4L321.7 323.4L322.5 323.4L323.3 323.4L324.1 323.4L324.9 323.4L325.7 323.4L326.5 323.4L327.3 323.4L328.1 323.4L329.0 323.4L329.8 323.4L330.6 323.4L331.4 323.4L332.2 323.4L333.0 323.4" fill="none" stroke="#0000ff" stroke-width="3.2" stroke-dasharray="10.4 4.5" stroke-dashoffset="13.81" />
<path d="M111.0 314.2L111.8 314.1L112.6 314.1L113.4 314.0L114.2 313.9L115.0 313.9L115.8 313.8L116.6 313.7L117.4 313.6L118.2 313.5L119.0 313.4L119.8 313.3L120.6 313.2L121.4 313.0L122.2 312.9L123.0 312.8L123.8 312.7L124.6 312.5L125.4 312.4L126.2 312.3L126.9 312.1L127.7 312.0L128.5 311.9L129.3 311.7L130.1 311.5L130.9 311.4L131.6 311.2L132.4 311.0L133.2 310.8L134.0 310.5L134.8 310.3L135.5 310.1L136.3 309.9L137.1 309.7L137.9 309.5L138.6 309.3L139.4 309.1L140.2 309.0L141.0 308.8L141.8 308.6L142.6 308.4L143.4 308.2L144.1 308.1L144.9 307.9L145.7 307.7L146.5 307.6L147.3 307.5L148.1 307.4L148.9 307.3L149.7 307.2L150.5 307.2L151.3 307.1L152.1 307.1L152.9 307.1L153.7 307.2L154.5 307.4L155.3 307.6L156.1 307.8L156.8 308.0L157.6 308.3L158.3 308.6L159.1 308.9L159.8 309.3L160.5 309.7L161.2 310.0L161.9 310.4L162.6 310.8L163.3 311.2L164.0 311.6L164.7 312.1L165.4 312.5L166.0 313.0L166.7 313.4L167.4 313.9L168.0 314.3L168.7 314.8L169.3 315.3L170.0 315.8L170.6 316.3L171.2 316.8L171.8 317.3L172.5 317.8L173.1 318.3L173.8 318.8L174.5 319.2L175.2 319.5L175.9 319.9L176.6 320.2L177.3 320.5L178.1 320.8L178.9 321.1L179.7 321.3L180.4 321.5L181.2 321.7L182.0 321.9L182.8 322.0L183.6 322.1L184.4 322.2L185.2 322.3L186.0 322.4L186.8 322.5L187.6 322.6L188.4 322.7L189.2 322.8L190.0 322.8L190.8 322.9L191.6 322.9L192.4 322.9L193.2 322.9L194.0 322.9L194.8 322.9L195.6 322.9L196.4 322.9L197.2 322.9L198.0 322.9L198.8 322.9L199.6 322.9L200.4 322.9L201.2 322.9L202.0 322.9L202.8 322.9L203.6 322.9L204.4 322.9L205.2 322.9L206.0 322.9L206.8 323.0L207.6 323.0L208.4 323.0L209.2 323.0L210.0 323.0L210.8 323.0L211.6 323.0L212.4 323.0L213.2 323.0L214.0 323.0L214.8 323.0L215.6 323.0L216.4 323.0L217.2 323.0L218.0 323.0L218.8 323.0L219.6 323.0L220.4 323.0L221.2 323.0L222.0 323.0L222.8 323.0L223.7 323.0L224.5 323.0L225.3 323.0L226.1 323.0L226.9 323.0L227.7 323.0L228.5 323.0L229.3 323.0L230.1 323.0L230.9 323.0L231.7 323.0L232.5 323.0L233.3 323.0L234.1 323.0L234.9 323.0L235.7 323.0L236.5 323.0L237.3 323.0L238.1 323.0L238.9 323.0L239.7 323.0L240.5 323.0L241.3 323.0L242.1 323.0L242.9 323.0L243.7 323.0L244.5 323.0L245.3 323.0L246.1 323.0L246.9 323.0L247.7 323.0L248.5 323.0L249.3 323.1L250.1 323.1L250.9 323.1L251.7 323.1L252.5 323.1L253.3 323.1L254.1 323.1L254.9 323.1L255.7 323.1L256.5 323.1L257.4 323.1L258.2 323.1L259.0 323.1L259.8 323.1L260.6 323.1L261.4 323.1L262.2 323.1L263.0 323.1L263.8 323.1L264.6 323.1L265.4 323.1L266.2 323.1L267.0 323.1L267.8 323.1L268.6 323.1L269.4 323.1L270.2 323.1L271.0 323.1L271.8 323.1L272.6 323.1L273.4 323.1L274.2 323.1L275.0 323.1L275.8 323.1L276.6 323.1L277.4 323.1L278.2 323.1L279.0 323.1L279.8 323.1L280.7 323.1L281.5 323.1L282.3 323.1L283.1 323.1L283.9 323.1L284.7 323.1L285.5 323.1L286.3 323.1L287.1 323.1L287.9 323.1L288.7 323.1L289.5 323.1L290.3 323.1L291.1 323.1L291.9 323.1L292.7 323.1L293.5 323.1L294.3 323.1L295.1 323.1L295.9 323.1L296.7 323.1L297.5 323.1L298.3 323.1L299.2 323.1L300.0 323.1L300.8 323.1L301.6 323.1L302.4 323.1L303.2 323.1L304.0 323.1L304.8 323.1L305.6 323.1L306.4 323.1L307.2 323.1L308.0 323.1L308.8 323.1L309.6 323.1L310.4 323.1L311.2 323.1L312.0 323.1L312.8 323.1L313.6 323.1L314.5 323.1L315.3 323.1L316.1 323.1L316.9 323.1L317.7 323.1L318.5 323.1L319.3 323.1L320.1 323.1L320.9 323.1L321.7 323.1L322.5 323.1L323.3 323.1L324.1 323.1L324.9 323.1L325.7 323.1L326.5 323.1L327.4 323.1L328.2 323.1L329.0 323.1L329.8 323.1L330.6 323.1L331.4 323.1L332.2 323.1L333.0 323.1" fill="none" stroke="#00ff00" stroke-width="3.2" stroke-dasharray="10.4 4.5" stroke-dashoffset="0.00" />
<path d="M111.0 316.6L111.8 316.5L112.6 316.5L113.4 316.5L114.2 316.4L115.0 316.4L115.8 316.4L116.6 316.3L117.4 316.3L118.2 316.3L119.0 316.3L119.8 316.3L120.6 316.3L121.4 316.3L122.2 316.3L123.0 316.4L123.9 316.4L124.7 316.4L125.5 316.5L126.3 316.5L127.1 316.6L127.9 316.6L128.6 316.7L129.4 316.8L130.2 316.9L131.0 317.1L131.8 317.3L132.6 317.5L133.4 317.7L134.1 318.0L134.9 318.2L135.7 318.4L136.4 318.7L137.2 318.9L137.9 319.2L138.7 319.6L139.4 319.9L140.1 320.2L140.9 320.6L141.6 320.9L142.4 321.1L143.1 321.5L143.9 321.8L144.7 322.1L145.5 322.3L146.2 322.5L147.0 322.6L147.7 322.5L148.5 322.2L149.2 321.8L149.9 321.3L150.6 320.8L151.2 320.3L151.8 319.8L152.3 319.2L152.8 318.6L153.3 317.9L153.8 317.2L154.2 316.6L154.7 315.9L155.2 315.3L155.6 314.6L156.1 313.9L156.5 313.3L157.0 312.6L157.4 311.9L157.8 311.2L158.2 310.5L158.6 309.8L159.0 309.2L159.4 308.4L159.8 307.7L160.2 307.0L160.6 306.3L160.9 305.6L161.3 304.9L161.6 304.2L162.0 303.5L162.3 302.7L162.6 302.0L162.9 301.3L163.2 300.5L163.5 299.8L163.8 299.0L164.1 298.3L164.4 297.5L164.7 296.8L165.0 296.0L165.3 295.3L165.6 294.5L165.8 293.8L166.1 293.0L166.4 292.3L166.7 291.5L167.0 290.7L167.2 290.0L167.5 289.2L167.8 288.5L168.1 287.7L168.4 287.0L168.7 286.2L169.0 285.5L169.2 284.7L169.5 284.0L169.8 283.2L170.1 282.5L170.4 281.7L170.7 281.0L170.9 280.2L171.2 279.5L171.5 278.7L171.8 278.0L172.1 277.2L172.3 276.5L172.6 275.7L172.9 275.0L173.2 274.2L173.4 273.4L173.7 272.7L174.0 271.9L174.3 271.2L174.5 270.4L174.8 269.7L175.1 268.9L175.3 268.1L175.6 267.4L175.9 266.6L176.1 265.9L176.4 265.1L176.7 264.4L176.9 263.6L177.2 262.8L177.5 262.1L177.7 261.3L178.0 260.6L178.2 259.8L178.4 259.0L178.7 258.3L178.9 257.5L179.1 256.7L179.3 255.9L179.5 255.2L179.7 254.4L179.9 253.6L180.0 252.8L180.2 252.0L180.4 251.2L180.6 250.5L180.8 249.7L180.9 248.9L181.1 248.1L181.3 247.3L181.5 246.5L181.7 245.8L182.0 245.0L182.2 244.2L182.4 243.5L182.7 242.7L182.9 242.0L183.2 241.2L183.4 240.4L183.7 239.7L184.0 238.9L184.3 238.2L184.5 237.4L184.8 236.7L185.1 235.9L185.4 235.2L185.7 234.4L186.0 233.7L186.3 232.9L186.6 232.2L186.9 231.4L187.2 230.7L187.5 229.9L187.8 229.2L188.1 228.5L188.4 227.7L188.7 227.0L189.0 226.2L189.3 225.5L189.6 224.7L189.9 224.0L190.3 223.2L190.6 222.5L190.9 221.8L191.2 221.0L191.6 220.3L191.9 219.6L192.3 218.9L192.7 218.2L193.0 217.5L193.4 216.8L193.8 216.1L194.2 215.4L194.7 214.7L195.1 214.0L195.5 213.3L196.0 212.6L196.4 211.9L196.9 211.3L197.3 210.6L197.8 210.0L198.3 209.3L198.8 208.7L199.3 208.1L199.8 207.5L200.4 206.9L200.9 206.4L201.5 205.8L202.1 205.2L202.7 204.6L203.3 204.1L203.9 203.6L204.5 203.1L205.2 202.6L205.8 202.1L206.5 201.7L207.1 201.3L207.8 200.9L208.5 200.5L209.2 200.1L210.0 199.7L210.7 199.3L211.4 199.0L212.2 198.6L212.9 198.3L213.7 198.1L214.5 197.8L215.2 197.6L216.0 197.4L216.7 197.3L217.5 197.1L218.3 197.0L219.1 196.8L219.9 196.7L220.7 196.6L221.5 196.5L222.3 196.4L223.1 196.3L223.9 196.2L224.7 196.1L225.5 196.1L226.3 196.0L227.1 196.0L227.9 195.9L228.7 195.9L229.5 195.9L230.3 196.0L231.1 196.0L232.0 196.1L232.8 196.3L233.6 196.4L234.4 196.6L235.1 196.7L235.9 196.9L236.7 197.1L237.5 197.3L238.2 197.5L239.0 197.7L239.7 198.0L240.5 198.3L241.2 198.7L242.0 199.0L242.7 199.4L243.4 199.8L244.1 200.2L244.8 200.6L245.5 201.1L246.1 201.5L246.8 201.9L247.4 202.4L248.0 202.9L248.6 203.4L249.2 204.0L249.8 204.6L250.4 205.1L251.0 205.7L251.5 206.4L252.0 207.0L252.5 207.6L253.0 208.2L253.5 208.9L253.9 209.5L254.4 210.2L254.8 210.8L255.2 211.5L255.6 212.2L256.0 212.9L256.4 213.6L256.7 214.4L257.1 215.1L257.5 215.8L257.8 216.6L258.2 217.3L258.5 218.0L258.8 218.8L259.2 219.5L259.5 220.2L259.8 221.0L260.1 221.7L260.5 222.4L260.8 223.2L261.1 223.9L261.4 224.7L261.7 225.4L262.0 226.2L262.3 226.9L262.5 227.7L262.8 228.4L263.1 229.2L263.4 229.9L263.7 230.7L263.9 231.4L264.2 232.2L264.5 232.9L264.7 233.7L265.0 234.5L265.3 235.2L265.6 236.0L265.8 236.7L266.1 237.5L266.4 238.2L266.6 239.0L266.9 239.8L267.1 240.5L267.4 241.3L267.7 242.0L267.9 242.8L268.2 243.6L268.4 244.3L268.7 245.1L268.9 245.8L269.2 246.6L269.4 247.4L269.7 248.1L269.9 248.9L270.2 249.7L270.4 250.4L270.7 251.2L271.0 251.9L271.2 252.7L271.5 253.5L271.7 254.2L272.0 255.0L272.3 255.7L272.5 256.5L272.8 257.3L273.0 258.0L273.3 258.8L273.5 259.5L273.8 260.3L274.0 261.1L274.3 261.8L274.5 262.6L274.7 263.4L274.9 264.2L275.1 264.9L275.3 265.7L275.5 266.5L275.7 267.3L275.9 268.1L276.0 268.8L276.2 269.6L276.4 270.4L276.6 271.2L276.8 272.0L277.0 272.8L277.2 273.5L277.4 274.3L277.6 275.1L277.8 275.9L278.0 276.6L278.3 277.4L278.5 278.2L278.7 278.9L278.9 279.7L279.2 280.5L279.4 281.2L279.7 282.0L279.9 282.8L280.1 283.6L280.4 284.3L280.7 285.1L280.9 285.8L281.2 286.6L281.4 287.4L281.7 288.1L282.0 288.9L282.3 289.6L282.6 290.4L282.8 291.1L283.1 291.8L283.4 292.6L283.7 293.3L284.1 294.1L284.4 294.8L284.7 295.6L285.0 296.3L285.4 297.0L285.7 297.8L286.1 298.5L286.4 299.2L286.8 300.0L287.2 300.7L287.5 301.4L287.9 302.1L288.3 302.8L288.7 303.5L289.1 304.2L289.6 304.8L290.0 305.5L290.4 306.1L290.9 306.8L291.4 307.4L291.9 308.0L292.4 308.7L292.9 309.3L293.5 309.9L294.0 310.5L294.6 311.1L295.2 311.6L295.7 312.2L296.3 312.8L296.9 313.3L297.5 313.8L298.1 314.4L298.7 314.9L299.3 315.4L299.9 315.9L300.6 316.5L301.2 316.9L301.9 317.4L302.6 317.8L303.2 318.3L303.9 318.7L304.6 319.0L305.3 319.5L306.1 319.9L306.8 320.3L307.5 320.7L308.3 321.0L309.0 321.3L309.8 321.5L310.6 321.6L311.4 321.6L312.1 321.6L312.9 321.6L313.7 321.6L314.5 321.6L315.4 321.6L316.2 321.5L317.0 321.5L317.8 321.5L318.6 321.5L319.4 321.5L320.2 321.4L321.0 321.4L321.8 321.4L322.6 321.3L323.4 321.3L324.2 321.2L325.0 321.1L325.8 321.1L326.6 321.0L327.4 320.9L328.2 320.8L329.0 320.8L329.8 320.7L330.6 320.6L331.4 320.5L332.2 320.4L333.0 320.3" fill="none" stroke="#ff0000" stroke-width="3.2" stroke-dasharray="10.4 4.5" stroke-dashoffset="0.00" />
<path d="M111.0 322.0L111.8 321.9L112.6 321.8L113.4 321.7L114.2 321.5L115.0 321.4L115.8 321.2L116.6 321.1L117.3 320.9L118.1 320.7L118.9 320.6L119.7 320.4L120.5 320.2L121.2 320.0L122.0 319.8L122.8 319.6L123.6 319.3L124.3 319.1L125.1 318.8L125.9 318.6L126.6 318.3L127.4 318.0L128.1 317.7L128.8 317.3L129.5 317.0L130.2 316.6L130.9 316.2L131.6 315.8L132.3 315.4L133.0 314.9L133.7 314.5L134.3 314.0L135.0 313.6L135.7 313.1L136.3 312.6L137.0 312.2L137.6 311.7L138.3 311.2L138.9 310.7L139.5 310.2L140.2 309.7L140.8 309.1L141.4 308.6L142.0 308.0L142.5 307.5L143.1 306.9L143.6 306.3L144.1 305.7L144.5 305.1L145.0 304.4L145.5 303.8L145.9 303.1L146.3 302.4L146.8 301.8L147.2 301.1L147.6 300.3L148.0 299.6L148.4 298.9L148.8 298.2L149.1 297.5L149.5 296.8L149.9 296.1L150.3 295.4L150.7 294.7L151.1 294.0L151.5 293.2L151.8 292.5L152.2 291.8L152.6 291.1L153.0 290.4L153.3 289.7L153.7 289.0L154.1 288.3L154.4 287.5L154.8 286.8L155.1 286.1L155.5 285.4L155.8 284.6L156.2 283.9L156.5 283.2L156.8 282.5L157.2 281.7L157.5 281.0L157.8 280.3L158.1 279.5L158.4 278.8L158.8 278.0L159.1 277.3L159.3 276.6L159.6 275.8L159.9 275.0L160.2 274.3L160.5 273.5L160.8 272.8L161.1 272.0L161.3 271.3L161.6 270.5L161.9 269.8L162.2 269.0L162.5 268.3L162.8 267.5L163.1 266.8L163.4 266.0L163.7 265.3L164.0 264.6L164.3 263.8L164.7 263.1L165.0 262.4L165.4 261.7L165.7 260.9L166.1 260.2L166.5 259.5L166.8 258.8L167.2 258.1L167.6 257.4L168.0 256.7L168.4 256.0L168.8 255.3L169.1 254.6L169.5 253.8L169.9 253.0L170.2 252.3L170.6 251.5L171.0 250.8L171.4 250.1L171.8 249.5L172.3 249.0L172.9 248.5L173.6 248.0L174.3 247.5L175.1 247.1L175.9 246.8L176.6 246.6L177.2 246.7L177.9 246.9L178.5 247.4L179.2 248.0L179.8 248.7L180.3 249.5L180.8 250.2L181.3 250.8L181.7 251.5L182.1 252.1L182.5 252.8L182.8 253.5L183.1 254.3L183.5 255.0L183.8 255.8L184.1 256.5L184.4 257.3L184.7 258.1L185.0 258.8L185.3 259.6L185.6 260.3L185.9 261.1L186.3 261.8L186.6 262.5L186.9 263.3L187.2 264.0L187.6 264.7L187.9 265.5L188.2 266.2L188.5 266.9L188.9 267.7L189.2 268.4L189.5 269.2L189.8 269.9L190.1 270.6L190.4 271.4L190.7 272.1L191.0 272.9L191.3 273.6L191.6 274.4L191.9 275.1L192.2 275.9L192.5 276.6L192.7 277.4L193.0 278.1L193.3 278.9L193.6 279.6L193.8 280.4L194.1 281.1L194.4 281.9L194.7 282.6L195.0 283.4L195.2 284.1L195.5 284.9L195.8 285.6L196.1 286.4L196.4 287.1L196.7 287.9L197.0 288.6L197.3 289.4L197.7 290.1L198.0 290.9L198.3 291.6L198.6 292.3L198.9 293.1L199.2 293.8L199.5 294.6L199.9 295.3L200.2 296.0L200.5 296.8L200.8 297.5L201.2 298.2L201.5 299.0L201.9 299.7L202.2 300.4L202.6 301.1L203.0 301.8L203.4 302.5L203.8 303.2L204.2 303.9L204.6 304.6L205.0 305.3L205.4 306.0L205.8 306.7L206.3 307.4L206.7 308.0L207.2 308.7L207.6 309.4L208.1 310.0L208.6 310.7L209.1 311.3L209.6 311.9L210.1 312.5L210.6 313.1L211.2 313.7L211.7 314.3L212.3 314.8L212.9 315.4L213.5 316.0L214.1 316.5L214.7 317.0L215.4 317.5L216.0 318.0L216.7 318.4L217.3 318.8L218.0 319.2L218.7 319.6L219.5 320.0L220.2 320.3L221.0 320.6L221.7 320.9L222.5 321.2L223.2 321.4L224.0 321.7L224.8 321.9L225.6 322.1L226.4 322.3L227.1 322.3L227.9 322.2L228.7 322.1L229.5 321.9L230.3 321.7L231.1 321.5L231.9 321.3L232.7 321.2L233.5 321.1L234.2 321.0L235.0 320.8L235.8 320.7L236.6 320.7L237.4 320.6L238.2 320.6L239.0 320.5L239.8 320.5L240.6 320.4L241.4 320.4L242.2 320.3L243.0 320.3L243.9 320.3L244.7 320.2L245.5 320.2L246.3 320.2L247.1 320.1L247.9 320.1L248.7 320.1L249.5 320.1L250.3 320.1L251.1 320.0L251.9 320.0L252.7 320.0L253.5 320.0L254.3 320.0L255.1 320.0L255.9 320.0L256.7 320.0L257.5 320.0L258.3 320.0L259.1 320.0L259.9 320.0L260.7 320.0L261.5 320.0L262.3 320.0L263.1 320.0L263.9 320.0L264.7 320.0L265.5 320.0L266.3 320.0L267.1 320.0L267.9 320.0L268.7 320.0L269.6 320.0L270.4 320.0L271.2 320.0L272.0 320.0L272.8 320.0L273.6 320.0L274.4 320.0L275.2 319.9L276.0 319.9L276.8 319.9L277.6 319.9L278.4 319.9L279.2 319.9L280.0 319.9L280.8 319.9L281.6 319.9L282.4 319.9L283.2 319.9L284.0 319.9L284.8 319.9L285.6 319.9L286.4 319.9L287.2 319.9L288.0 319.9L288.8 319.9L289.6 319.9L290.4 319.9L291.2 319.9L292.0 319.9L292.8 319.9L293.6 319.9L294.4 319.9L295.2 319.9L296.0 319.9L296.9 319.9L297.7 319.9L298.5 319.9L299.3 319.9L300.1 319.9L300.9 319.9L301.7 319.9L302.5 319.9L303.3 319.9L304.1 319.9L304.9 319.9L305.7 319.9L306.5 319.9L307.3 319.9L308.1 319.9L308.9 319.9L309.7 319.9L310.5 319.9L311.3 319.9L312.1 319.9L312.9 319.9L313.7 319.9L314.5 319.9L315.3 319.9L316.1 319.9L316.9 319.9L317.7 319.9L318.5 319.9L319.3 319.9L320.1 319.9L320.9 319.9L321.8 319.9L322.6 319.9L323.4 319.9L324.2 319.9L325.0 319.9L325.8 319.9L326.6 319.9L327.4 319.9L328.2 319.9L329.0 319.9L329.8 319.9L330.6 319.9L331.4 319.9L332.2 319.9L333.0 319.9" fill="none" stroke="#800080" stroke-width="3.2" stroke-dasharray="10.4 4.5" stroke-dashoffset="0.00" />
<rect x="108.3" y="188.8" width="228.0" height="140.7" fill="none" stroke="#000" stroke-width="2.2"/>
<g font-family="'Liberation Sans', sans-serif" fill="#000" stroke="#000" stroke-width="0.35">
<text transform="translate(71.2 418.9) scale(1 1.085)" font-size="27.4" text-anchor="middle">0</text>
<text transform="translate(156.3 418.9) scale(1 1.085)" font-size="27.4" text-anchor="middle">10</text>
<text transform="translate(241.5 418.9) scale(1 1.085)" font-size="27.4" text-anchor="middle">20</text>
<text transform="translate(326.6 418.9) scale(1 1.085)" font-size="27.4" text-anchor="middle">30</text>
<text transform="translate(411.7 418.9) scale(1 1.085)" font-size="27.4" text-anchor="middle">40</text>
<text transform="translate(496.8 418.9) scale(1 1.085)" font-size="27.4" text-anchor="middle">50</text>
<text transform="translate(582.0 418.9) scale(1 1.085)" font-size="27.4" text-anchor="middle">60</text>
<text transform="translate(667.1 418.9) scale(1 1.085)" font-size="27.4" text-anchor="middle">70</text>
<text transform="translate(370.8 460.8) scale(1 1.085)" font-size="28" text-anchor="middle">N</text>
<text transform="translate(54.0 89.0) scale(1 1.085)" font-size="27.4" text-anchor="end">1</text>
<text transform="translate(28.2 197.2) scale(1 1.085)" font-size="27.4" text-anchor="end">10</text>
<text transform="translate(28.6 185.6) scale(1 1.085)" font-size="19.4" text-anchor="start">−4</text>
<text transform="translate(28.2 305.4) scale(1 1.085)" font-size="27.4" text-anchor="end">10</text>
<text transform="translate(28.6 293.8) scale(1 1.085)" font-size="19.4" text-anchor="start">−8</text>
<text transform="translate(112.8 351.8) scale(1 1.03)" font-size="18.3" text-anchor="middle">32</text>
<text transform="translate(144.1 351.8) scale(1 1.03)" font-size="18.3" text-anchor="middle">33</text>
<text transform="translate(175.5 351.8) scale(1 1.03)" font-size="18.3" text-anchor="middle">34</text>
<text transform="translate(206.8 351.8) scale(1 1.03)" font-size="18.3" text-anchor="middle">35</text>
<text transform="translate(238.2 351.8) scale(1 1.03)" font-size="18.3" text-anchor="middle">36</text>
<text transform="translate(269.5 351.8) scale(1 1.03)" font-size="18.3" text-anchor="middle">37</text>
<text transform="translate(300.9 351.8) scale(1 1.03)" font-size="18.3" text-anchor="middle">38</text>
<text transform="translate(332.2 351.8) scale(1 1.03)" font-size="18.3" text-anchor="middle">39</text>
<text transform="translate(102.2 328.0) scale(1 1.05)" font-size="18.3" text-anchor="end">0.0</text>
<text transform="translate(102.2 306.8) scale(1 1.05)" font-size="18.3" text-anchor="end">0.5</text>
<text transform="translate(102.2 285.6) scale(1 1.05)" font-size="18.3" text-anchor="end">1.0</text>
<text transform="translate(102.2 264.4) scale(1 1.05)" font-size="18.3" text-anchor="end">1.5</text>
<text transform="translate(102.2 243.2) scale(1 1.05)" font-size="18.3" text-anchor="end">2.0</text>
<text transform="translate(102.2 222.0) scale(1 1.05)" font-size="18.3" text-anchor="end">2.5</text>
<text transform="translate(102.2 200.8) scale(1 1.05)" font-size="18.3" text-anchor="end">3.0</text>
</g>
<path d="M132.0 39.0h10.8m4 0h10.9" stroke="#0000ff" stroke-width="3" fill="none"/>
<path d="M132.0 76.4h10.8m4 0h10.9" stroke="#00ff00" stroke-width="3" fill="none"/>
<path d="M219.2 39.0h10.8m4 0h10.9" stroke="#ff0000" stroke-width="3" fill="none"/>
<path d="M219.2 76.4h10.8m4 0h10.9" stroke="#800080" stroke-width="3" fill="none"/>
<g font-family="'DejaVu Sans', sans-serif" fill="#000" stroke="#000" stroke-width="0.25">
<text x="171.6" y="45.2" font-size="20.5" font-style="oblique">ϵ</text>
<text x="181.6" y="49.4" font-size="16.5" font-style="oblique">H</text>
<text x="171.6" y="82.4" font-size="20.5" font-style="oblique">ϵ</text>
<text x="182.0" y="86.5" font-size="16.5" font-style="oblique">v</text>
<text x="258.0" y="45.2" font-size="19.6">|</text>
<text transform="translate(264.0 45.2) scale(1.1 1)" font-size="20.5" font-style="oblique">η</text>
<text x="277.0" y="49.4" font-size="16.5" font-style="oblique">H</text>
<text x="291.6" y="45.2" font-size="19.6">|</text>
<text x="258.0" y="82.4" font-size="19.6">|</text>
<text transform="translate(264.0 82.4) scale(1.1 1)" font-size="20.5" font-style="oblique">η</text>
<text x="276.6" y="86.5" font-size="16.5" font-style="oblique">v</text>
<text x="287.8" y="82.4" font-size="19.6">|</text>
</g>
</svg>
</body></html>
